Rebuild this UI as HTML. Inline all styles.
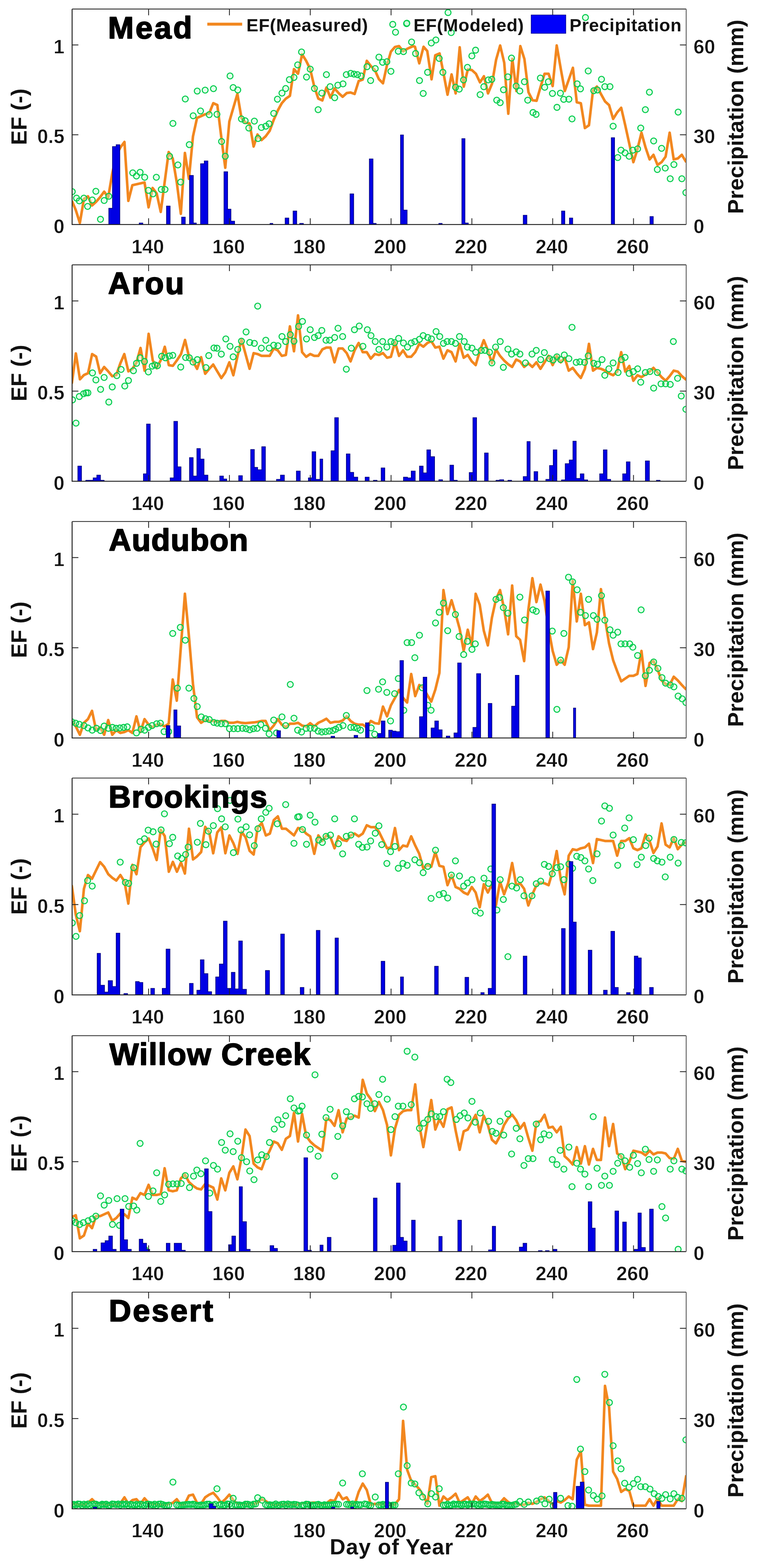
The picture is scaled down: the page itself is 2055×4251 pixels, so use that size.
<!DOCTYPE html>
<html><head><meta charset="utf-8"><title>EF time series</title>
<style>
html,body{margin:0;padding:0;background:#fff;}
svg{display:block;}
text{font-family:'Liberation Sans', Arial, Helvetica, sans-serif;font-weight:bold;fill:#111;}
.t{font-size:53px;stroke:#fff;stroke-width:0.8px;}
.al{font-size:60px;}
.ti{font-size:84px;fill:#000;stroke:#000;stroke-width:2.6px;stroke-linejoin:round;}
.lg{font-size:48.5px;letter-spacing:0.8px;}
.xl{font-size:59px;letter-spacing:1.4px;}
</style></head><body>
<svg width="2055" height="4251" viewBox="0 0 2055 4251">
<rect width="2055" height="4251" fill="#fff"/>
<clipPath id="c0"><rect x="195.5" y="24.5" width="1664.8" height="584.2"/></clipPath>
<g clip-path="url(#c0)">
<path d="M195 544.6 L205.5 569.6 L216.5 604.5 L227.5 539.6 L238.5 532.1 L249.5 557.1 L260.4 547.1 L271.4 534.6 L282.4 519.6 L293.4 534.6 L304.4 469.6 L315.4 419.7 L326.4 399.7 L337.4 384.7 L347.9 544.6 L358.9 502.1 L369.9 499.6 L380.8 497.1 L391.8 494.6 L402.8 562.1 L413.8 509.6 L424.8 524.6 L435.8 574.6 L446.3 494.6 L457.3 412.2 L468.3 429.7 L479.3 494.6 L490.3 579.6 L501.3 414.7 L512.2 484.6 L523.2 369.7 L534.2 319.8 L545.2 314.8 L556.2 309.8 L567.2 307.3 L578.2 279.8 L589.2 284.8 L599.7 369.7 L610.7 454.7 L621.7 329.8 L632.6 292.3 L643.6 254.8 L654.6 319.8 L665.6 332.3 L676.6 334.7 L687.6 397.2 L698.1 364.7 L709.1 379.7 L720.1 369.7 L731.1 354.7 L742.1 324.8 L753 299.8 L764 279.8 L775 267.3 L786 259.8 L797 187.4 L808 199.9 L819 147.4 L830 164.9 L841 187.4 L852 234.8 L863 267.3 L873.9 272.3 L884.9 237.3 L895.9 264.8 L906.9 239.8 L917.9 252.3 L928.9 262.3 L939.9 252.3 L950.4 250.8 L961.4 254.8 L972.4 219.8 L983.4 215.8 L994.4 164.9 L1005.3 178.9 L1016.3 189.9 L1027.3 214.8 L1038.3 225.8 L1049.3 175.9 L1059.8 139.9 L1070.8 127.4 L1081.8 124.9 L1092.8 138.9 L1103.8 132.4 L1120 125 L1125 126.7 L1136.7 171.7 L1148.3 126.7 L1158.3 138.3 L1170 215 L1180 150 L1191.7 145 L1201.7 195 L1213.3 256.7 L1224.3 201.7 L1235.3 253.3 L1246.3 128.3 L1257.3 235 L1268.3 188.3 L1279.3 190 L1290.3 200 L1301.3 223.3 L1312 206.7 L1323 253.3 L1334 226.7 L1345 161.7 L1356 123.3 L1367 170 L1378 308.3 L1389 160 L1400 246.7 L1410.7 125 L1421.7 160 L1432.7 250 L1443.7 271.7 L1454.7 273.3 L1465.7 235 L1476.3 200 L1487.3 200 L1498.3 233.3 L1509.3 123.3 L1520.3 186.7 L1531.3 246.7 L1553.2 183.9 L1563.7 277.3 L1574.7 279.8 L1585.7 347.2 L1596.7 339.7 L1607.7 244.8 L1618.2 234.8 L1629.2 254.8 L1640.2 274.8 L1651.2 284.8 L1662.2 322.3 L1673.2 304.8 L1684.1 292.3 L1695.1 339.7 L1706.1 389.7 L1717.1 439.7 L1728.1 404.7 L1739.1 359.7 L1750.1 399.7 L1761.1 432.2 L1771.6 419.7 L1782.6 447.2 L1793.6 439.7 L1804.5 424.7 L1815.5 359.7 L1826.5 432.2 L1837.5 429.7 L1848.5 419.7 L1860.5 439.7" fill="none" stroke="#f2871f" stroke-width="7" stroke-linejoin="round" stroke-linecap="butt"/>
<path d="M188 519.6a8 8 0 1 0 16 0a8 8 0 1 0 -16 0M199.5 537.1a8 8 0 1 0 16 0a8 8 0 1 0 -16 0M207 544.6a8 8 0 1 0 16 0a8 8 0 1 0 -16 0M219.5 537.1a8 8 0 1 0 16 0a8 8 0 1 0 -16 0M229.5 559.6a8 8 0 1 0 16 0a8 8 0 1 0 -16 0M242 542.1a8 8 0 1 0 16 0a8 8 0 1 0 -16 0M251.9 518.6a8 8 0 1 0 16 0a8 8 0 1 0 -16 0M264.4 594.5a8 8 0 1 0 16 0a8 8 0 1 0 -16 0M274.4 543.6a8 8 0 1 0 16 0a8 8 0 1 0 -16 0M286.9 532.1a8 8 0 1 0 16 0a8 8 0 1 0 -16 0M351.9 468.6a8 8 0 1 0 16 0a8 8 0 1 0 -16 0M361.9 477.1a8 8 0 1 0 16 0a8 8 0 1 0 -16 0M371.8 467.1a8 8 0 1 0 16 0a8 8 0 1 0 -16 0M384.3 480.6a8 8 0 1 0 16 0a8 8 0 1 0 -16 0M394.3 516.1a8 8 0 1 0 16 0a8 8 0 1 0 -16 0M406.8 525.6a8 8 0 1 0 16 0a8 8 0 1 0 -16 0M415.8 480.6a8 8 0 1 0 16 0a8 8 0 1 0 -16 0M429.3 513.6a8 8 0 1 0 16 0a8 8 0 1 0 -16 0M439.3 513.6a8 8 0 1 0 16 0a8 8 0 1 0 -16 0M451.8 423.7a8 8 0 1 0 16 0a8 8 0 1 0 -16 0M460.8 334.7a8 8 0 1 0 16 0a8 8 0 1 0 -16 0M474.3 447.2a8 8 0 1 0 16 0a8 8 0 1 0 -16 0M481.8 493.6a8 8 0 1 0 16 0a8 8 0 1 0 -16 0M494.3 268.3a8 8 0 1 0 16 0a8 8 0 1 0 -16 0M505.2 392.2a8 8 0 1 0 16 0a8 8 0 1 0 -16 0M515.7 313.8a8 8 0 1 0 16 0a8 8 0 1 0 -16 0M526.7 246.8a8 8 0 1 0 16 0a8 8 0 1 0 -16 0M535.7 300.8a8 8 0 1 0 16 0a8 8 0 1 0 -16 0M548.2 244.3a8 8 0 1 0 16 0a8 8 0 1 0 -16 0M559.2 310.8a8 8 0 1 0 16 0a8 8 0 1 0 -16 0M570.7 240.3a8 8 0 1 0 16 0a8 8 0 1 0 -16 0M580.2 309.8a8 8 0 1 0 16 0a8 8 0 1 0 -16 0M592.7 383.7a8 8 0 1 0 16 0a8 8 0 1 0 -16 0M602.7 423.7a8 8 0 1 0 16 0a8 8 0 1 0 -16 0M615.7 205.9a8 8 0 1 0 16 0a8 8 0 1 0 -16 0M624.1 237.3a8 8 0 1 0 16 0a8 8 0 1 0 -16 0M636.6 243.8a8 8 0 1 0 16 0a8 8 0 1 0 -16 0M646.6 322.3a8 8 0 1 0 16 0a8 8 0 1 0 -16 0M656.6 327.3a8 8 0 1 0 16 0a8 8 0 1 0 -16 0M666.6 347.2a8 8 0 1 0 16 0a8 8 0 1 0 -16 0M681.6 328.3a8 8 0 1 0 16 0a8 8 0 1 0 -16 0M691.6 375.7a8 8 0 1 0 16 0a8 8 0 1 0 -16 0M700.6 345.7a8 8 0 1 0 16 0a8 8 0 1 0 -16 0M712.6 342.2a8 8 0 1 0 16 0a8 8 0 1 0 -16 0M721.6 335.7a8 8 0 1 0 16 0a8 8 0 1 0 -16 0M734.1 307.3a8 8 0 1 0 16 0a8 8 0 1 0 -16 0M744.1 268.8a8 8 0 1 0 16 0a8 8 0 1 0 -16 0M756.5 252.3a8 8 0 1 0 16 0a8 8 0 1 0 -16 0M766.5 239.8a8 8 0 1 0 16 0a8 8 0 1 0 -16 0M776.5 215.8a8 8 0 1 0 16 0a8 8 0 1 0 -16 0M789 209.8a8 8 0 1 0 16 0a8 8 0 1 0 -16 0M799 175.9a8 8 0 1 0 16 0a8 8 0 1 0 -16 0M809.5 140.9a8 8 0 1 0 16 0a8 8 0 1 0 -16 0M823 208.8a8 8 0 1 0 16 0a8 8 0 1 0 -16 0M833 187.4a8 8 0 1 0 16 0a8 8 0 1 0 -16 0M844.5 239.8a8 8 0 1 0 16 0a8 8 0 1 0 -16 0M854.5 297.3a8 8 0 1 0 16 0a8 8 0 1 0 -16 0M864.5 252.3a8 8 0 1 0 16 0a8 8 0 1 0 -16 0M876.9 202.4a8 8 0 1 0 16 0a8 8 0 1 0 -16 0M886.9 234.8a8 8 0 1 0 16 0a8 8 0 1 0 -16 0M899.4 264.8a8 8 0 1 0 16 0a8 8 0 1 0 -16 0M907.9 230.8a8 8 0 1 0 16 0a8 8 0 1 0 -16 0M921.9 227.3a8 8 0 1 0 16 0a8 8 0 1 0 -16 0M930.9 202.4a8 8 0 1 0 16 0a8 8 0 1 0 -16 0M942.9 198.9a8 8 0 1 0 16 0a8 8 0 1 0 -16 0M951.9 200.9a8 8 0 1 0 16 0a8 8 0 1 0 -16 0M960.9 202.4a8 8 0 1 0 16 0a8 8 0 1 0 -16 0M970.9 205.9a8 8 0 1 0 16 0a8 8 0 1 0 -16 0M986.9 180.9a8 8 0 1 0 16 0a8 8 0 1 0 -16 0M996.8 218.3a8 8 0 1 0 16 0a8 8 0 1 0 -16 0M1009.3 185.9a8 8 0 1 0 16 0a8 8 0 1 0 -16 0M1019.3 154.9a8 8 0 1 0 16 0a8 8 0 1 0 -16 0M1029.3 168.9a8 8 0 1 0 16 0a8 8 0 1 0 -16 0M1040.8 167.4a8 8 0 1 0 16 0a8 8 0 1 0 -16 0M1051.8 193.4a8 8 0 1 0 16 0a8 8 0 1 0 -16 0M1056.8 66a8 8 0 1 0 16 0a8 8 0 1 0 -16 0M1064.3 87.4a8 8 0 1 0 16 0a8 8 0 1 0 -16 0M1071.8 138.9a8 8 0 1 0 16 0a8 8 0 1 0 -16 0M1085.8 139.9a8 8 0 1 0 16 0a8 8 0 1 0 -16 0M1094.3 64a8 8 0 1 0 16 0a8 8 0 1 0 -16 0M1107.8 113.9a8 8 0 1 0 16 0a8 8 0 1 0 -16 0M1206.7 34a8 8 0 1 0 16 0a8 8 0 1 0 -16 0M1118.7 145a8 8 0 1 0 16 0a8 8 0 1 0 -16 0M1129.3 218.3a8 8 0 1 0 16 0a8 8 0 1 0 -16 0M1139.3 253.3a8 8 0 1 0 16 0a8 8 0 1 0 -16 0M1151.3 196a8 8 0 1 0 16 0a8 8 0 1 0 -16 0M1161.3 116.7a8 8 0 1 0 16 0a8 8 0 1 0 -16 0M1173.7 108.3a8 8 0 1 0 16 0a8 8 0 1 0 -16 0M1182.7 158.3a8 8 0 1 0 16 0a8 8 0 1 0 -16 0M1192.7 196a8 8 0 1 0 16 0a8 8 0 1 0 -16 0M1215.3 88.3a8 8 0 1 0 16 0a8 8 0 1 0 -16 0M1227 236.7a8 8 0 1 0 16 0a8 8 0 1 0 -16 0M1237 241.7a8 8 0 1 0 16 0a8 8 0 1 0 -16 0M1248.7 216.7a8 8 0 1 0 16 0a8 8 0 1 0 -16 0M1259.3 182.7a8 8 0 1 0 16 0a8 8 0 1 0 -16 0M1271.3 151.7a8 8 0 1 0 16 0a8 8 0 1 0 -16 0M1281.3 136a8 8 0 1 0 16 0a8 8 0 1 0 -16 0M1293.7 256.7a8 8 0 1 0 16 0a8 8 0 1 0 -16 0M1303.7 235a8 8 0 1 0 16 0a8 8 0 1 0 -16 0M1316 216.7a8 8 0 1 0 16 0a8 8 0 1 0 -16 0M1325.3 215a8 8 0 1 0 16 0a8 8 0 1 0 -16 0M1338.7 271.7a8 8 0 1 0 16 0a8 8 0 1 0 -16 0M1348 278.3a8 8 0 1 0 16 0a8 8 0 1 0 -16 0M1357 243.3a8 8 0 1 0 16 0a8 8 0 1 0 -16 0M1368.7 208.3a8 8 0 1 0 16 0a8 8 0 1 0 -16 0M1378.7 157.3a8 8 0 1 0 16 0a8 8 0 1 0 -16 0M1391.3 233.3a8 8 0 1 0 16 0a8 8 0 1 0 -16 0M1401.3 246.7a8 8 0 1 0 16 0a8 8 0 1 0 -16 0M1413.7 221.7a8 8 0 1 0 16 0a8 8 0 1 0 -16 0M1422.7 271.7a8 8 0 1 0 16 0a8 8 0 1 0 -16 0M1437 305a8 8 0 1 0 16 0a8 8 0 1 0 -16 0M1445.3 310a8 8 0 1 0 16 0a8 8 0 1 0 -16 0M1457 211.7a8 8 0 1 0 16 0a8 8 0 1 0 -16 0M1468.7 236.7a8 8 0 1 0 16 0a8 8 0 1 0 -16 0M1478.7 221.7a8 8 0 1 0 16 0a8 8 0 1 0 -16 0M1489.7 253.3a8 8 0 1 0 16 0a8 8 0 1 0 -16 0M1502 291a8 8 0 1 0 16 0a8 8 0 1 0 -16 0M1511.3 252.7a8 8 0 1 0 16 0a8 8 0 1 0 -16 0M1520.3 269.3a8 8 0 1 0 16 0a8 8 0 1 0 -16 0M1534.3 268.8a8 8 0 1 0 16 0a8 8 0 1 0 -16 0M1542.8 322.3a8 8 0 1 0 16 0a8 8 0 1 0 -16 0M1556.7 227.3a8 8 0 1 0 16 0a8 8 0 1 0 -16 0M1565.7 240.8a8 8 0 1 0 16 0a8 8 0 1 0 -16 0M1586.7 192.4a8 8 0 1 0 16 0a8 8 0 1 0 -16 0M1601.7 245.8a8 8 0 1 0 16 0a8 8 0 1 0 -16 0M1611.7 243.8a8 8 0 1 0 16 0a8 8 0 1 0 -16 0M1622.7 214.8a8 8 0 1 0 16 0a8 8 0 1 0 -16 0M1631.7 234.8a8 8 0 1 0 16 0a8 8 0 1 0 -16 0M1645.7 234.8a8 8 0 1 0 16 0a8 8 0 1 0 -16 0M1654.2 342.2a8 8 0 1 0 16 0a8 8 0 1 0 -16 0M1666.7 427.2a8 8 0 1 0 16 0a8 8 0 1 0 -16 0M1675.6 407.2a8 8 0 1 0 16 0a8 8 0 1 0 -16 0M1686.6 414.7a8 8 0 1 0 16 0a8 8 0 1 0 -16 0M1697.6 423.7a8 8 0 1 0 16 0a8 8 0 1 0 -16 0M1707.6 407.2a8 8 0 1 0 16 0a8 8 0 1 0 -16 0M1720.6 403.7a8 8 0 1 0 16 0a8 8 0 1 0 -16 0M1729.1 347.2a8 8 0 1 0 16 0a8 8 0 1 0 -16 0M1741.6 297.3a8 8 0 1 0 16 0a8 8 0 1 0 -16 0M1752.6 249.8a8 8 0 1 0 16 0a8 8 0 1 0 -16 0M1764.1 382.2a8 8 0 1 0 16 0a8 8 0 1 0 -16 0M1774.1 459.6a8 8 0 1 0 16 0a8 8 0 1 0 -16 0M1785.6 402.2a8 8 0 1 0 16 0a8 8 0 1 0 -16 0M1795.5 455.7a8 8 0 1 0 16 0a8 8 0 1 0 -16 0M1809 484.6a8 8 0 1 0 16 0a8 8 0 1 0 -16 0M1819 446.2a8 8 0 1 0 16 0a8 8 0 1 0 -16 0M1830.5 303.8a8 8 0 1 0 16 0a8 8 0 1 0 -16 0M1840.5 484.6a8 8 0 1 0 16 0a8 8 0 1 0 -16 0M1851.5 522.1a8 8 0 1 0 16 0a8 8 0 1 0 -16 0M1579.2 47.5a8 8 0 1 0 16 0a8 8 0 1 0 -16 0" fill="#b8ffcc" fill-opacity="0.4" stroke="#00cc4c" stroke-width="2.8"/>
<path d="M294.9 608.7V564.6H304.9V397.2H314.9V392.2H324.9V608.7ZM377.4 608.7V604.5H387.3V608.7ZM451.3 608.7V558.6H461.3V608.7ZM492.3 608.7V588.5H502.3V608.7ZM513.7 608.7V475.6H524.2V604.5H532.2V608.7ZM543.7 608.7V443.7H553.7V436.2H563.7V608.7ZM607.2 608.7V465.6H617.2V567.1H626.2V599.5H636.1V608.7ZM732.1 608.7V605.5H739.6V608.7ZM773 608.7V591H783V608.7ZM794.5 608.7V572.1H804.5V608.7ZM812.5 608.7V605.5H822.5V608.7ZM948.9 608.7V525.6H958.9V608.7ZM1001.3 608.7V430.7H1011.3V605.5H1019.8V608.7ZM1085.8 608.7V365.7H1093.8V569.6H1103.8V608.7ZM1189.7 608.7V605.5H1198.7V608.7ZM1252.1 608.7V375.7H1260.6V604.5H1269.6V608.7ZM1418.5 608.7V583.5H1428.5V608.7ZM1522.3 608.7V572.1H1531.3V608.7ZM1543.8 608.7V591H1552.7V608.7ZM1657.2 608.7V373.2H1666.2V608.7ZM1762.1 608.7V587H1771.1V608.7Z" fill="#0000e4" stroke="#000078" stroke-width="1.6" stroke-linejoin="miter"/>
</g>
<path d="M195.5 24.5V608.7H1860.3" fill="none" stroke="#222" stroke-width="2.6"/>
<path d="M195.5 24.5H1860.3" fill="none" stroke="#333" stroke-width="2.3"/>
<path d="M1860.3 24.5V608.7" fill="none" stroke="#5c5c5c" stroke-width="2.4"/>
<path d="M402.9 608.7v-17M402.9 24.5v17M622 608.7v-17M622 24.5v17M841.1 608.7v-17M841.1 24.5v17M1060.2 608.7v-17M1060.2 24.5v17M1279.3 608.7v-17M1279.3 24.5v17M1498.4 608.7v-17M1498.4 24.5v17M1717.5 608.7v-17M1717.5 24.5v17M195.5 365.3h17M1860.3 365.3h-17M195.5 121.9h17M1860.3 121.9h-17" stroke="#222" stroke-width="2.2" fill="none"/>
<text x="400.6" y="686.5" class="t" text-anchor="middle">140</text>
<text x="619.7" y="686.5" class="t" text-anchor="middle">160</text>
<text x="838.8" y="686.5" class="t" text-anchor="middle">180</text>
<text x="1057.9" y="686.5" class="t" text-anchor="middle">200</text>
<text x="1277" y="686.5" class="t" text-anchor="middle">220</text>
<text x="1496.1" y="686.5" class="t" text-anchor="middle">240</text>
<text x="1715.2" y="686.5" class="t" text-anchor="middle">260</text>
<text x="174.8" y="631.7" class="t" text-anchor="end">0</text>
<text x="174.8" y="388.3" class="t" text-anchor="end">0.5</text>
<text x="174.8" y="144.9" class="t" text-anchor="end">1</text>
<text x="1880" y="631.7" class="t">0</text>
<text x="1880" y="388.3" class="t">30</text>
<text x="1880" y="144.9" class="t">60</text>
<text class="al" transform="translate(71.5 316.6) rotate(-90)" text-anchor="middle">EF (-)</text>
<text class="al" transform="translate(2015 316.6) rotate(-90)" text-anchor="middle">Precipitation (mm)</text>
<text class="ti" x="292.7" y="103.7" textLength="228.1" lengthAdjust="spacing">Mead</text>
<clipPath id="c1"><rect x="195.5" y="718.0" width="1664.8" height="586.8"/></clipPath>
<g clip-path="url(#c1)">
<path d="M194.7 1040 L205.7 958.3 L216.7 1028.3 L227.7 1016.7 L238.7 1011.7 L249.7 960 L260.7 966.7 L271.3 1011.7 L282.3 995 L293.3 1006.7 L304.3 1020 L315.3 1016.7 L326.3 985 L337 960 L348 1006.7 L359 1000 L370 983.3 L381 943.3 L392 1005 L403 905 L414 976.7 L424.7 998.3 L435.7 976.7 L446.7 940 L457.7 990 L468.7 991.7 L479.7 976.7 L490.7 960 L501.7 921.7 L512.3 966.7 L523.3 980 L534.3 1000 L545.3 968.3 L556.3 1013.3 L567.3 1000 L578 988.3 L589 1006.7 L600 1025 L610.7 1009.8 L621.7 982.3 L632.6 1017.3 L643.6 967.3 L654.6 919.8 L665.6 959.8 L676.6 999.8 L687.6 957.3 L698.1 959.8 L709.1 964.8 L720.1 964.8 L731.1 964.8 L742.1 944.8 L753 949.8 L764 964.8 L775 962.3 L786 884.9 L797 952.3 L808 854.9 L819 954.8 L830 967.3 L841 959.8 L852 964.8 L863 964.8 L873.9 947.3 L884.9 942.3 L895.9 942.3 L906.9 982.3 L917.9 944.8 L928.9 944.8 L939.9 957.3 L950.4 979.8 L961.4 949.8 L972.4 929.8 L983.4 954.8 L994.4 954.8 L1005.3 972.3 L1016.3 959.8 L1027.3 962.3 L1038.3 957.3 L1049.3 969.8 L1059.8 967.3 L1070.8 927.3 L1081.8 964.8 L1092.8 949.8 L1103.8 967.3 L1114.8 967.3 L1125.7 954.8 L1136.7 932.3 L1147.7 939.8 L1158.7 929.8 L1169.2 924.8 L1180.2 942.3 L1191.2 939.8 L1202.2 972.3 L1213.2 949.8 L1224.2 954.8 L1235.2 979.8 L1246.2 932.3 L1257.1 969.8 L1268.1 962.3 L1279.1 979.8 L1289.6 989.8 L1300.6 952.3 L1311.6 922.3 L1322.6 949.8 L1333.6 984.8 L1344.6 947.3 L1355.6 964.8 L1366.6 977.3 L1377.5 987.3 L1388.5 994.8 L1399.5 974.8 L1410 979.8 L1421 994.8 L1432.3 984.8 L1443.3 994.8 L1454.3 982.3 L1465.3 999.8 L1476.3 982.3 L1487.3 964.8 L1498.3 989.8 L1509.3 964.8 L1520.3 982.3 L1530.8 969.8 L1541.8 1004.8 L1552.7 997.3 L1563.7 1012.3 L1574.7 1024.7 L1585.7 999.8 L1596.7 932.3 L1607.7 1004.8 L1618.2 997.3 L1629.2 999.8 L1640.2 1004.8 L1651.2 1012.3 L1662.2 1017.3 L1673.2 1007.3 L1684.1 954.8 L1695.1 1007.3 L1706.1 992.3 L1717.1 1032.2 L1728.1 1017.3 L1739.1 1022.3 L1750.1 1014.8 L1761.1 1007.3 L1771.6 997.3 L1782.6 1009.8 L1793.6 1022.3 L1804.5 1032.2 L1815.5 1019.8 L1826.5 1004.8 L1837.5 1007.3 L1848.5 1019.8 L1860.5 1029.7" fill="none" stroke="#f2871f" stroke-width="7" stroke-linejoin="round" stroke-linecap="butt"/>
<path d="M188.7 1084a8 8 0 1 0 16 0a8 8 0 1 0 -16 0M207 1075a8 8 0 1 0 16 0a8 8 0 1 0 -16 0M218.7 1067.3a8 8 0 1 0 16 0a8 8 0 1 0 -16 0M225.3 1065a8 8 0 1 0 16 0a8 8 0 1 0 -16 0M230.3 1065a8 8 0 1 0 16 0a8 8 0 1 0 -16 0M242.7 1011a8 8 0 1 0 16 0a8 8 0 1 0 -16 0M252 1030a8 8 0 1 0 16 0a8 8 0 1 0 -16 0M264.7 1055.7a8 8 0 1 0 16 0a8 8 0 1 0 -16 0M274.3 1023.3a8 8 0 1 0 16 0a8 8 0 1 0 -16 0M287 1090a8 8 0 1 0 16 0a8 8 0 1 0 -16 0M296.3 1049a8 8 0 1 0 16 0a8 8 0 1 0 -16 0M308.7 1018.3a8 8 0 1 0 16 0a8 8 0 1 0 -16 0M320.3 1001.7a8 8 0 1 0 16 0a8 8 0 1 0 -16 0M330.3 1046.7a8 8 0 1 0 16 0a8 8 0 1 0 -16 0M340.3 1031.7a8 8 0 1 0 16 0a8 8 0 1 0 -16 0M353.7 1005a8 8 0 1 0 16 0a8 8 0 1 0 -16 0M362 985a8 8 0 1 0 16 0a8 8 0 1 0 -16 0M372 970a8 8 0 1 0 16 0a8 8 0 1 0 -16 0M383.7 980a8 8 0 1 0 16 0a8 8 0 1 0 -16 0M394.3 1008.3a8 8 0 1 0 16 0a8 8 0 1 0 -16 0M404.7 992.7a8 8 0 1 0 16 0a8 8 0 1 0 -16 0M412 989.3a8 8 0 1 0 16 0a8 8 0 1 0 -16 0M418.7 991.7a8 8 0 1 0 16 0a8 8 0 1 0 -16 0M430.3 966a8 8 0 1 0 16 0a8 8 0 1 0 -16 0M440.3 970a8 8 0 1 0 16 0a8 8 0 1 0 -16 0M451.3 965a8 8 0 1 0 16 0a8 8 0 1 0 -16 0M460.3 963.3a8 8 0 1 0 16 0a8 8 0 1 0 -16 0M482 995a8 8 0 1 0 16 0a8 8 0 1 0 -16 0M495.3 969.3a8 8 0 1 0 16 0a8 8 0 1 0 -16 0M505.3 970a8 8 0 1 0 16 0a8 8 0 1 0 -16 0M515.3 981.7a8 8 0 1 0 16 0a8 8 0 1 0 -16 0M527 975a8 8 0 1 0 16 0a8 8 0 1 0 -16 0M550.3 996.7a8 8 0 1 0 16 0a8 8 0 1 0 -16 0M558 964a8 8 0 1 0 16 0a8 8 0 1 0 -16 0M572 943.3a8 8 0 1 0 16 0a8 8 0 1 0 -16 0M580.3 944a8 8 0 1 0 16 0a8 8 0 1 0 -16 0M592 960a8 8 0 1 0 16 0a8 8 0 1 0 -16 0M198 1147.2a8 8 0 1 0 16 0a8 8 0 1 0 -16 0M604.2 918.8a8 8 0 1 0 16 0a8 8 0 1 0 -16 0M615.7 938.8a8 8 0 1 0 16 0a8 8 0 1 0 -16 0M624.1 967.3a8 8 0 1 0 16 0a8 8 0 1 0 -16 0M636.6 947.3a8 8 0 1 0 16 0a8 8 0 1 0 -16 0M646.6 924.8a8 8 0 1 0 16 0a8 8 0 1 0 -16 0M659.1 899.8a8 8 0 1 0 16 0a8 8 0 1 0 -16 0M669.1 928.3a8 8 0 1 0 16 0a8 8 0 1 0 -16 0M681.6 930.8a8 8 0 1 0 16 0a8 8 0 1 0 -16 0M690.6 829.9a8 8 0 1 0 16 0a8 8 0 1 0 -16 0M700.6 943.8a8 8 0 1 0 16 0a8 8 0 1 0 -16 0M712.6 922.3a8 8 0 1 0 16 0a8 8 0 1 0 -16 0M721.6 943.8a8 8 0 1 0 16 0a8 8 0 1 0 -16 0M734.1 935.8a8 8 0 1 0 16 0a8 8 0 1 0 -16 0M745.5 937.3a8 8 0 1 0 16 0a8 8 0 1 0 -16 0M756.5 912.3a8 8 0 1 0 16 0a8 8 0 1 0 -16 0M766.5 925.8a8 8 0 1 0 16 0a8 8 0 1 0 -16 0M779 907.3a8 8 0 1 0 16 0a8 8 0 1 0 -16 0M789 924.8a8 8 0 1 0 16 0a8 8 0 1 0 -16 0M801.5 884.9a8 8 0 1 0 16 0a8 8 0 1 0 -16 0M812 871.4a8 8 0 1 0 16 0a8 8 0 1 0 -16 0M823 918.8a8 8 0 1 0 16 0a8 8 0 1 0 -16 0M833 893.9a8 8 0 1 0 16 0a8 8 0 1 0 -16 0M844.5 914.8a8 8 0 1 0 16 0a8 8 0 1 0 -16 0M854.5 909.8a8 8 0 1 0 16 0a8 8 0 1 0 -16 0M864.5 895.9a8 8 0 1 0 16 0a8 8 0 1 0 -16 0M875.9 922.3a8 8 0 1 0 16 0a8 8 0 1 0 -16 0M885.9 922.3a8 8 0 1 0 16 0a8 8 0 1 0 -16 0M899.4 914.8a8 8 0 1 0 16 0a8 8 0 1 0 -16 0M908.4 889.9a8 8 0 1 0 16 0a8 8 0 1 0 -16 0M920.9 912.3a8 8 0 1 0 16 0a8 8 0 1 0 -16 0M930.9 1000.8a8 8 0 1 0 16 0a8 8 0 1 0 -16 0M944.4 943.8a8 8 0 1 0 16 0a8 8 0 1 0 -16 0M952.9 893.9a8 8 0 1 0 16 0a8 8 0 1 0 -16 0M965.9 883.9a8 8 0 1 0 16 0a8 8 0 1 0 -16 0M975.9 938.8a8 8 0 1 0 16 0a8 8 0 1 0 -16 0M987.9 893.9a8 8 0 1 0 16 0a8 8 0 1 0 -16 0M997.8 909.8a8 8 0 1 0 16 0a8 8 0 1 0 -16 0M1009.3 925.8a8 8 0 1 0 16 0a8 8 0 1 0 -16 0M1019.3 947.3a8 8 0 1 0 16 0a8 8 0 1 0 -16 0M1029.3 925.8a8 8 0 1 0 16 0a8 8 0 1 0 -16 0M1040.8 940.8a8 8 0 1 0 16 0a8 8 0 1 0 -16 0M1051.8 925.8a8 8 0 1 0 16 0a8 8 0 1 0 -16 0M1061.8 928.8a8 8 0 1 0 16 0a8 8 0 1 0 -16 0M1072.8 917.3a8 8 0 1 0 16 0a8 8 0 1 0 -16 0M1085.8 929.8a8 8 0 1 0 16 0a8 8 0 1 0 -16 0M1096.8 940.8a8 8 0 1 0 16 0a8 8 0 1 0 -16 0M1106.8 929.8a8 8 0 1 0 16 0a8 8 0 1 0 -16 0M1116.7 925.8a8 8 0 1 0 16 0a8 8 0 1 0 -16 0M1129.2 919.8a8 8 0 1 0 16 0a8 8 0 1 0 -16 0M1139.2 909.8a8 8 0 1 0 16 0a8 8 0 1 0 -16 0M1151.7 914.8a8 8 0 1 0 16 0a8 8 0 1 0 -16 0M1161.7 918.8a8 8 0 1 0 16 0a8 8 0 1 0 -16 0M1174.2 898.8a8 8 0 1 0 16 0a8 8 0 1 0 -16 0M1184.2 912.3a8 8 0 1 0 16 0a8 8 0 1 0 -16 0M1194.2 930.8a8 8 0 1 0 16 0a8 8 0 1 0 -16 0M1204.2 925.8a8 8 0 1 0 16 0a8 8 0 1 0 -16 0M1215.7 925.8a8 8 0 1 0 16 0a8 8 0 1 0 -16 0M1226.7 930.8a8 8 0 1 0 16 0a8 8 0 1 0 -16 0M1237.7 912.3a8 8 0 1 0 16 0a8 8 0 1 0 -16 0M1250.6 925.8a8 8 0 1 0 16 0a8 8 0 1 0 -16 0M1259.1 940.8a8 8 0 1 0 16 0a8 8 0 1 0 -16 0M1271.6 943.8a8 8 0 1 0 16 0a8 8 0 1 0 -16 0M1281.6 954.8a8 8 0 1 0 16 0a8 8 0 1 0 -16 0M1296.6 949.8a8 8 0 1 0 16 0a8 8 0 1 0 -16 0M1306.6 949.8a8 8 0 1 0 16 0a8 8 0 1 0 -16 0M1319.1 954.8a8 8 0 1 0 16 0a8 8 0 1 0 -16 0M1325.6 983.8a8 8 0 1 0 16 0a8 8 0 1 0 -16 0M1335.6 940.8a8 8 0 1 0 16 0a8 8 0 1 0 -16 0M1348.1 925.8a8 8 0 1 0 16 0a8 8 0 1 0 -16 0M1356.6 995.8a8 8 0 1 0 16 0a8 8 0 1 0 -16 0M1369 946.3a8 8 0 1 0 16 0a8 8 0 1 0 -16 0M1379 959.8a8 8 0 1 0 16 0a8 8 0 1 0 -16 0M1391.5 953.8a8 8 0 1 0 16 0a8 8 0 1 0 -16 0M1401.5 959.8a8 8 0 1 0 16 0a8 8 0 1 0 -16 0M1416.5 983.8a8 8 0 1 0 16 0a8 8 0 1 0 -16 0M1434.3 959.8a8 8 0 1 0 16 0a8 8 0 1 0 -16 0M1445.8 949.8a8 8 0 1 0 16 0a8 8 0 1 0 -16 0M1457.8 974.8a8 8 0 1 0 16 0a8 8 0 1 0 -16 0M1467.8 955.8a8 8 0 1 0 16 0a8 8 0 1 0 -16 0M1481.8 972.3a8 8 0 1 0 16 0a8 8 0 1 0 -16 0M1491.8 975.8a8 8 0 1 0 16 0a8 8 0 1 0 -16 0M1501.8 967.3a8 8 0 1 0 16 0a8 8 0 1 0 -16 0M1511.8 974.8a8 8 0 1 0 16 0a8 8 0 1 0 -16 0M1521.8 962.3a8 8 0 1 0 16 0a8 8 0 1 0 -16 0M1534.3 972.3a8 8 0 1 0 16 0a8 8 0 1 0 -16 0M1542.8 887.4a8 8 0 1 0 16 0a8 8 0 1 0 -16 0M1554.2 982.3a8 8 0 1 0 16 0a8 8 0 1 0 -16 0M1564.2 980.8a8 8 0 1 0 16 0a8 8 0 1 0 -16 0M1576.7 982.3a8 8 0 1 0 16 0a8 8 0 1 0 -16 0M1586.7 964.8a8 8 0 1 0 16 0a8 8 0 1 0 -16 0M1601.7 984.8a8 8 0 1 0 16 0a8 8 0 1 0 -16 0M1611.7 987.3a8 8 0 1 0 16 0a8 8 0 1 0 -16 0M1624.2 974.8a8 8 0 1 0 16 0a8 8 0 1 0 -16 0M1631.7 1017.3a8 8 0 1 0 16 0a8 8 0 1 0 -16 0M1642.7 999.8a8 8 0 1 0 16 0a8 8 0 1 0 -16 0M1654.2 983.8a8 8 0 1 0 16 0a8 8 0 1 0 -16 0M1667.7 1009.8a8 8 0 1 0 16 0a8 8 0 1 0 -16 0M1676.6 974.8a8 8 0 1 0 16 0a8 8 0 1 0 -16 0M1686.6 968.8a8 8 0 1 0 16 0a8 8 0 1 0 -16 0M1697.6 1012.3a8 8 0 1 0 16 0a8 8 0 1 0 -16 0M1709.1 1007.3a8 8 0 1 0 16 0a8 8 0 1 0 -16 0M1720.6 999.8a8 8 0 1 0 16 0a8 8 0 1 0 -16 0M1729.1 1036.2a8 8 0 1 0 16 0a8 8 0 1 0 -16 0M1741.6 1009.8a8 8 0 1 0 16 0a8 8 0 1 0 -16 0M1754.1 1007.3a8 8 0 1 0 16 0a8 8 0 1 0 -16 0M1764.1 1052.2a8 8 0 1 0 16 0a8 8 0 1 0 -16 0M1774.1 1009.8a8 8 0 1 0 16 0a8 8 0 1 0 -16 0M1784.1 1040.7a8 8 0 1 0 16 0a8 8 0 1 0 -16 0M1796.5 1040.7a8 8 0 1 0 16 0a8 8 0 1 0 -16 0M1809 1042.2a8 8 0 1 0 16 0a8 8 0 1 0 -16 0M1817.5 925.8a8 8 0 1 0 16 0a8 8 0 1 0 -16 0M1829 1025.7a8 8 0 1 0 16 0a8 8 0 1 0 -16 0M1839 1073.7a8 8 0 1 0 16 0a8 8 0 1 0 -16 0M1851.5 1109.7a8 8 0 1 0 16 0a8 8 0 1 0 -16 0" fill="#b8ffcc" fill-opacity="0.4" stroke="#00cc4c" stroke-width="2.8"/>
<path d="M211 1304.8V1263.6H221V1304.8ZM232.5 1304.8V1302H252.5V1295.5H262.4V1288H272.4V1302H282.4V1304.8ZM388.8 1304.8V1284.5H397.3V1149.6H407.3V1304.8ZM461.3 1304.8V1295.5H471.3V1142.2H481.3V1265.6H490.8V1304.8ZM513.7 1304.8V1240.6H523.7V1290.5H533.7V1216.1H543.2V1244.6H553.2V1288H563.7V1304.8ZM595.7 1304.8V1290.5H605.7V1298.5H614.7V1304.8ZM647.1 1304.8V1289.5H657.1V1304.8ZM679.6 1304.8V1218.6H689.6V1267.1H698.6V1273.5H709.6V1211.1H719.6V1304.8ZM749.6 1304.8V1299.5H760.3V1288H771V1304.8ZM803.5 1304.8V1277H811V1277H814V1304.8ZM836 1304.8V1295.5H846V1224.6H856V1299.5H867.5V1244.6H874.9V1304.8ZM897.4 1304.8V1222.1H907.4V1132.2H917.4V1304.8ZM938.9 1304.8V1230.6H948.9V1280.5H958.9V1293.5H969.9V1304.8ZM989.9 1304.8V1293.5H1000.8V1304.8ZM1012.3 1304.8V1302H1022.3V1304.8ZM1033.3 1304.8V1268.6H1043.3V1304.8ZM1093.8 1304.8V1293.5H1104.8V1295.5H1114.8V1277H1125.7V1304.8ZM1137.2 1304.8V1263.6H1147.2V1282H1157.2V1219.6H1167.2V1238.1H1178.2V1304.8ZM1189.7 1304.8V1300.5H1199.7V1304.8ZM1219.7 1304.8V1261.1H1229.7V1302H1239.7V1304.8ZM1272.1 1304.8V1281H1282.1V1132.2H1292.1V1304.8ZM1313.6 1304.8V1228.1H1323.6V1304.8ZM1344.6 1304.8V1302H1354.6V1300.5H1365.6V1304.8ZM1377 1304.8V1302H1387V1304.8ZM1418.5 1304.8V1292H1428.7V1197.1H1437.3V1304.8ZM1447.8 1304.8V1278.5H1457.8V1304.8ZM1479.8 1304.8V1299.5H1489.8V1262.1H1499.8V1219.6H1509.8V1304.8ZM1522.3 1304.8V1301H1532.3V1257.1H1543.3V1247.1H1553.2V1196.1H1562.2V1297H1573.2V1284.5H1583.2V1301H1593.2V1304.8ZM1625.7 1304.8V1284.5H1635.7V1219.6H1645.7V1299.5H1655.7V1304.8ZM1688.1 1304.8V1284.5H1698.1V1252.1H1708.1V1304.8ZM1749.6 1304.8V1249.6H1760.6V1304.8ZM1779.6 1304.8V1302H1789.6V1304.8Z" fill="#0000e4" stroke="#000078" stroke-width="1.6" stroke-linejoin="miter"/>
</g>
<path d="M195.5 718.0V1304.8H1860.3" fill="none" stroke="#222" stroke-width="2.6"/>
<path d="M195.5 718.0H1860.3" fill="none" stroke="#333" stroke-width="2.3"/>
<path d="M1860.3 718.0V1304.8" fill="none" stroke="#5c5c5c" stroke-width="2.4"/>
<path d="M402.9 1304.8v-17M402.9 718v17M622 1304.8v-17M622 718v17M841.1 1304.8v-17M841.1 718v17M1060.2 1304.8v-17M1060.2 718v17M1279.3 1304.8v-17M1279.3 718v17M1498.4 1304.8v-17M1498.4 718v17M1717.5 1304.8v-17M1717.5 718v17M195.5 1060.3h17M1860.3 1060.3h-17M195.5 815.8h17M1860.3 815.8h-17" stroke="#222" stroke-width="2.2" fill="none"/>
<text x="400.6" y="1382.6" class="t" text-anchor="middle">140</text>
<text x="619.7" y="1382.6" class="t" text-anchor="middle">160</text>
<text x="838.8" y="1382.6" class="t" text-anchor="middle">180</text>
<text x="1057.9" y="1382.6" class="t" text-anchor="middle">200</text>
<text x="1277" y="1382.6" class="t" text-anchor="middle">220</text>
<text x="1496.1" y="1382.6" class="t" text-anchor="middle">240</text>
<text x="1715.2" y="1382.6" class="t" text-anchor="middle">260</text>
<text x="174.8" y="1327.8" class="t" text-anchor="end">0</text>
<text x="174.8" y="1083.3" class="t" text-anchor="end">0.5</text>
<text x="174.8" y="838.8" class="t" text-anchor="end">1</text>
<text x="1880" y="1327.8" class="t">0</text>
<text x="1880" y="1083.3" class="t">30</text>
<text x="1880" y="838.8" class="t">60</text>
<text class="al" transform="translate(71.5 1011.4) rotate(-90)" text-anchor="middle">EF (-)</text>
<text class="al" transform="translate(2015 1011.4) rotate(-90)" text-anchor="middle">Precipitation (mm)</text>
<text class="ti" x="293.0" y="797.2" textLength="206.0" lengthAdjust="spacing">Arou</text>
<clipPath id="c2"><rect x="195.5" y="1413.9" width="1664.8" height="586.8"/></clipPath>
<g clip-path="url(#c2)">
<path d="M194.5 1954.6 L205.5 1969.5 L216.5 1992 L227.5 1959.6 L238.5 1949.6 L249.5 1927.1 L260.4 1979.5 L271.4 1972 L282.4 1992 L293.4 1952.1 L304.4 1992 L315.4 1979.5 L326.4 1987 L337.4 1984.5 L347.9 1979.5 L358.9 1987 L369.9 1942.1 L380.8 1984.5 L391.8 1949.6 L402.8 1964.6 L413.8 1972 L424.8 1964.6 L435.8 1963.6 L446.3 1969.5 L457.3 1962.1 L468.3 1842.2 L479.3 1899.6 L490.3 1754.7 L501.3 1609.8 L512.2 1724.7 L523.2 1854.6 L534.2 1944.6 L545.2 1959.6 L556.2 1952.1 L567.2 1954.6 L578.2 1954.6 L589.2 1957.1 L599.7 1954.6 L610.7 1954.6 L621.7 1959.6 L632.6 1959.6 L643.6 1957.1 L654.6 1959.6 L665.6 1960.6 L676.6 1959.6 L687.6 1958.6 L698.1 1957.1 L709.1 1954.6 L720.1 1954.6 L731.1 1979.5 L742.1 1967.1 L753 1949.6 L764 1964.6 L775 1972 L786 1962.1 L797 1962.1 L808 1959.6 L819 1967.1 L830 1969.5 L841 1960.6 L852 1969.5 L863 1959.6 L873.9 1954.6 L884.9 1948.6 L895.9 1959.6 L906.9 1957.1 L917.9 1957.1 L928.9 1953.6 L939.9 1942.1 L950.4 1954.6 L961.4 1962.1 L972.4 1964.6 L983.4 1964.6 L994.4 1972 L1005.3 1954.6 L1016.3 1960.6 L1027.3 1962.1 L1038.3 1915.6 L1049.3 1942.1 L1059.8 1912.1 L1070.8 1892.1 L1081.8 1870.6 L1092.8 1892.1 L1103.8 1904.6 L1114.8 1827.2 L1125.7 1887.1 L1136.7 1857.1 L1147.7 1864.6 L1158.7 1884.6 L1169.2 1902.1 L1180.2 1869.6 L1191.2 1824.7 L1202.2 1599.8 L1213.2 1664.8 L1224.2 1627.3 L1235.2 1664.8 L1246.2 1704.8 L1257.1 1764.7 L1268.1 1707.3 L1279.1 1749.7 L1289.6 1609.8 L1300.6 1639.8 L1311.6 1709.8 L1322.6 1749.7 L1333.6 1674.8 L1344.6 1624.8 L1355.6 1599.8 L1366.6 1649.8 L1377.5 1719.7 L1388.5 1587.4 L1399.5 1724.7 L1410 1734.7 L1421 1792.2 L1432.3 1654.8 L1443.3 1567.4 L1454.3 1632.3 L1465.3 1584.9 L1476.3 1629.8 L1487.3 1704.8 L1498.3 1764.7 L1509.3 1802.2 L1520.3 1789.7 L1530.8 1802.2 L1541.8 1754.7 L1552.7 1574.9 L1563.7 1684.8 L1574.7 1609.8 L1585.7 1694.8 L1596.7 1687.3 L1607.7 1759.7 L1618.2 1714.8 L1629.2 1597.3 L1640.2 1677.3 L1651.2 1744.7 L1662.2 1789.7 L1673.2 1819.7 L1684.1 1847.1 L1695.1 1839.7 L1706.1 1832.2 L1717.1 1832.2 L1728.1 1827.2 L1739.1 1764.7 L1750.1 1859.6 L1761.1 1797.2 L1771.6 1792.2 L1782.6 1814.7 L1793.6 1844.6 L1804.5 1854.6 L1815.5 1857.1 L1826.5 1834.7 L1837.5 1844.6 L1848.5 1857.1 L1860.5 1869.6" fill="none" stroke="#f2871f" stroke-width="7" stroke-linejoin="round" stroke-linecap="butt"/>
<path d="M187 1957.1a8 8 0 1 0 16 0a8 8 0 1 0 -16 0M197 1960.6a8 8 0 1 0 16 0a8 8 0 1 0 -16 0M207 1963.6a8 8 0 1 0 16 0a8 8 0 1 0 -16 0M219.5 1967.1a8 8 0 1 0 16 0a8 8 0 1 0 -16 0M230.5 1973.5a8 8 0 1 0 16 0a8 8 0 1 0 -16 0M242 1979.5a8 8 0 1 0 16 0a8 8 0 1 0 -16 0M253.4 1974.5a8 8 0 1 0 16 0a8 8 0 1 0 -16 0M264.4 1980.5a8 8 0 1 0 16 0a8 8 0 1 0 -16 0M274.4 1968.5a8 8 0 1 0 16 0a8 8 0 1 0 -16 0M285.9 1974.5a8 8 0 1 0 16 0a8 8 0 1 0 -16 0M296.9 1972a8 8 0 1 0 16 0a8 8 0 1 0 -16 0M306.9 1974.5a8 8 0 1 0 16 0a8 8 0 1 0 -16 0M316.9 1973.5a8 8 0 1 0 16 0a8 8 0 1 0 -16 0M326.9 1972a8 8 0 1 0 16 0a8 8 0 1 0 -16 0M336.9 1970.5a8 8 0 1 0 16 0a8 8 0 1 0 -16 0M361.9 1987a8 8 0 1 0 16 0a8 8 0 1 0 -16 0M374.3 1977a8 8 0 1 0 16 0a8 8 0 1 0 -16 0M384.3 1979.5a8 8 0 1 0 16 0a8 8 0 1 0 -16 0M394.3 1972a8 8 0 1 0 16 0a8 8 0 1 0 -16 0M404.3 1967.1a8 8 0 1 0 16 0a8 8 0 1 0 -16 0M416.8 1962.1a8 8 0 1 0 16 0a8 8 0 1 0 -16 0M426.8 1960.6a8 8 0 1 0 16 0a8 8 0 1 0 -16 0M436.8 1983.5a8 8 0 1 0 16 0a8 8 0 1 0 -16 0M449.3 1983.5a8 8 0 1 0 16 0a8 8 0 1 0 -16 0M460.3 1717.3a8 8 0 1 0 16 0a8 8 0 1 0 -16 0M472.8 1865.6a8 8 0 1 0 16 0a8 8 0 1 0 -16 0M480.8 1700.8a8 8 0 1 0 16 0a8 8 0 1 0 -16 0M494.3 1735.7a8 8 0 1 0 16 0a8 8 0 1 0 -16 0M504.2 1865.6a8 8 0 1 0 16 0a8 8 0 1 0 -16 0M517.7 1893.6a8 8 0 1 0 16 0a8 8 0 1 0 -16 0M526.7 1915.6a8 8 0 1 0 16 0a8 8 0 1 0 -16 0M537.7 1943.6a8 8 0 1 0 16 0a8 8 0 1 0 -16 0M549.2 1948.6a8 8 0 1 0 16 0a8 8 0 1 0 -16 0M559.2 1950.6a8 8 0 1 0 16 0a8 8 0 1 0 -16 0M571.7 1958.6a8 8 0 1 0 16 0a8 8 0 1 0 -16 0M580.7 1960.6a8 8 0 1 0 16 0a8 8 0 1 0 -16 0M591.7 1962.1a8 8 0 1 0 16 0a8 8 0 1 0 -16 0M602.7 1962.1a8 8 0 1 0 16 0a8 8 0 1 0 -16 0M614.2 1975.5a8 8 0 1 0 16 0a8 8 0 1 0 -16 0M625.6 1975.5a8 8 0 1 0 16 0a8 8 0 1 0 -16 0M636.6 1975.5a8 8 0 1 0 16 0a8 8 0 1 0 -16 0M649.1 1974.5a8 8 0 1 0 16 0a8 8 0 1 0 -16 0M659.1 1975.5a8 8 0 1 0 16 0a8 8 0 1 0 -16 0M669.1 1978.5a8 8 0 1 0 16 0a8 8 0 1 0 -16 0M679.1 1975.5a8 8 0 1 0 16 0a8 8 0 1 0 -16 0M689.1 1974.5a8 8 0 1 0 16 0a8 8 0 1 0 -16 0M699.1 1964.6a8 8 0 1 0 16 0a8 8 0 1 0 -16 0M711.6 1974.5a8 8 0 1 0 16 0a8 8 0 1 0 -16 0M721.6 1989.5a8 8 0 1 0 16 0a8 8 0 1 0 -16 0M734.1 1952.1a8 8 0 1 0 16 0a8 8 0 1 0 -16 0M741.6 1987a8 8 0 1 0 16 0a8 8 0 1 0 -16 0M756.5 1943.6a8 8 0 1 0 16 0a8 8 0 1 0 -16 0M766.5 1967.1a8 8 0 1 0 16 0a8 8 0 1 0 -16 0M779 1855.6a8 8 0 1 0 16 0a8 8 0 1 0 -16 0M789 1947.1a8 8 0 1 0 16 0a8 8 0 1 0 -16 0M799 1979.5a8 8 0 1 0 16 0a8 8 0 1 0 -16 0M809.5 1984.5a8 8 0 1 0 16 0a8 8 0 1 0 -16 0M822 1974.5a8 8 0 1 0 16 0a8 8 0 1 0 -16 0M833 1974.5a8 8 0 1 0 16 0a8 8 0 1 0 -16 0M844.5 1974.5a8 8 0 1 0 16 0a8 8 0 1 0 -16 0M854.5 1982a8 8 0 1 0 16 0a8 8 0 1 0 -16 0M864.5 1984.5a8 8 0 1 0 16 0a8 8 0 1 0 -16 0M874.4 1983.5a8 8 0 1 0 16 0a8 8 0 1 0 -16 0M884.4 1982a8 8 0 1 0 16 0a8 8 0 1 0 -16 0M894.4 1980.5a8 8 0 1 0 16 0a8 8 0 1 0 -16 0M901.9 1977a8 8 0 1 0 16 0a8 8 0 1 0 -16 0M910.9 1972a8 8 0 1 0 16 0a8 8 0 1 0 -16 0M921.9 1967.1a8 8 0 1 0 16 0a8 8 0 1 0 -16 0M930.9 1939.6a8 8 0 1 0 16 0a8 8 0 1 0 -16 0M942.9 1972a8 8 0 1 0 16 0a8 8 0 1 0 -16 0M951.9 1972a8 8 0 1 0 16 0a8 8 0 1 0 -16 0M960.9 1974.5a8 8 0 1 0 16 0a8 8 0 1 0 -16 0M969.4 1979.5a8 8 0 1 0 16 0a8 8 0 1 0 -16 0M986.9 1872.1a8 8 0 1 0 16 0a8 8 0 1 0 -16 0M998.3 1973.5a8 8 0 1 0 16 0a8 8 0 1 0 -16 0M1007.8 1990.5a8 8 0 1 0 16 0a8 8 0 1 0 -16 0M1018.3 1868.6a8 8 0 1 0 16 0a8 8 0 1 0 -16 0M1029.3 1848.6a8 8 0 1 0 16 0a8 8 0 1 0 -16 0M1040.8 1877.1a8 8 0 1 0 16 0a8 8 0 1 0 -16 0M1050.8 1954.6a8 8 0 1 0 16 0a8 8 0 1 0 -16 0M1061.8 1880.6a8 8 0 1 0 16 0a8 8 0 1 0 -16 0M1071.8 1839.7a8 8 0 1 0 16 0a8 8 0 1 0 -16 0M1086.8 1925.6a8 8 0 1 0 16 0a8 8 0 1 0 -16 0M1095.8 1742.2a8 8 0 1 0 16 0a8 8 0 1 0 -16 0M1107.8 1742.2a8 8 0 1 0 16 0a8 8 0 1 0 -16 0M1116.7 1783.2a8 8 0 1 0 16 0a8 8 0 1 0 -16 0M1129.2 1722.2a8 8 0 1 0 16 0a8 8 0 1 0 -16 0M1136.7 1864.6a8 8 0 1 0 16 0a8 8 0 1 0 -16 0M1151.7 1912.1a8 8 0 1 0 16 0a8 8 0 1 0 -16 0M1160.7 1925.6a8 8 0 1 0 16 0a8 8 0 1 0 -16 0M1172.7 1688.8a8 8 0 1 0 16 0a8 8 0 1 0 -16 0M1182.7 1659.8a8 8 0 1 0 16 0a8 8 0 1 0 -16 0M1194.2 1634.8a8 8 0 1 0 16 0a8 8 0 1 0 -16 0M1205.7 1709.8a8 8 0 1 0 16 0a8 8 0 1 0 -16 0M1226.7 1665.8a8 8 0 1 0 16 0a8 8 0 1 0 -16 0M1236.7 1725.7a8 8 0 1 0 16 0a8 8 0 1 0 -16 0M1249.1 1774.7a8 8 0 1 0 16 0a8 8 0 1 0 -16 0M1259.1 1738.7a8 8 0 1 0 16 0a8 8 0 1 0 -16 0M1271.6 1760.7a8 8 0 1 0 16 0a8 8 0 1 0 -16 0M1280.6 1745.7a8 8 0 1 0 16 0a8 8 0 1 0 -16 0M1336.6 1624.8a8 8 0 1 0 16 0a8 8 0 1 0 -16 0M1346.6 1619.8a8 8 0 1 0 16 0a8 8 0 1 0 -16 0M1356.6 1647.3a8 8 0 1 0 16 0a8 8 0 1 0 -16 0M1369 1662.3a8 8 0 1 0 16 0a8 8 0 1 0 -16 0M1401.5 1618.8a8 8 0 1 0 16 0a8 8 0 1 0 -16 0M1414 1680.8a8 8 0 1 0 16 0a8 8 0 1 0 -16 0M1436.8 1653.3a8 8 0 1 0 16 0a8 8 0 1 0 -16 0M1445.8 1657.3a8 8 0 1 0 16 0a8 8 0 1 0 -16 0M1489.3 1710.8a8 8 0 1 0 16 0a8 8 0 1 0 -16 0M1501.8 1923.1a8 8 0 1 0 16 0a8 8 0 1 0 -16 0M1511.8 1789.7a8 8 0 1 0 16 0a8 8 0 1 0 -16 0M1520.8 1717.3a8 8 0 1 0 16 0a8 8 0 1 0 -16 0M1533.3 1564.9a8 8 0 1 0 16 0a8 8 0 1 0 -16 0M1544.3 1577.4a8 8 0 1 0 16 0a8 8 0 1 0 -16 0M1556.7 1598.8a8 8 0 1 0 16 0a8 8 0 1 0 -16 0M1565.7 1659.8a8 8 0 1 0 16 0a8 8 0 1 0 -16 0M1579.2 1668.8a8 8 0 1 0 16 0a8 8 0 1 0 -16 0M1587.7 1624.8a8 8 0 1 0 16 0a8 8 0 1 0 -16 0M1600.7 1668.8a8 8 0 1 0 16 0a8 8 0 1 0 -16 0M1610.7 1678.8a8 8 0 1 0 16 0a8 8 0 1 0 -16 0M1622.7 1614.8a8 8 0 1 0 16 0a8 8 0 1 0 -16 0M1631.7 1681.3a8 8 0 1 0 16 0a8 8 0 1 0 -16 0M1645.7 1707.3a8 8 0 1 0 16 0a8 8 0 1 0 -16 0M1654.2 1722.2a8 8 0 1 0 16 0a8 8 0 1 0 -16 0M1666.7 1713.8a8 8 0 1 0 16 0a8 8 0 1 0 -16 0M1675.6 1745.7a8 8 0 1 0 16 0a8 8 0 1 0 -16 0M1686.6 1745.7a8 8 0 1 0 16 0a8 8 0 1 0 -16 0M1699.1 1745.7a8 8 0 1 0 16 0a8 8 0 1 0 -16 0M1707.6 1754.7a8 8 0 1 0 16 0a8 8 0 1 0 -16 0M1720.6 1777.2a8 8 0 1 0 16 0a8 8 0 1 0 -16 0M1730.1 1653.3a8 8 0 1 0 16 0a8 8 0 1 0 -16 0M1741.6 1832.2a8 8 0 1 0 16 0a8 8 0 1 0 -16 0M1752.6 1817.2a8 8 0 1 0 16 0a8 8 0 1 0 -16 0M1764.1 1794.7a8 8 0 1 0 16 0a8 8 0 1 0 -16 0M1775.6 1812.2a8 8 0 1 0 16 0a8 8 0 1 0 -16 0M1786.6 1837.2a8 8 0 1 0 16 0a8 8 0 1 0 -16 0M1796.5 1852.1a8 8 0 1 0 16 0a8 8 0 1 0 -16 0M1809 1857.1a8 8 0 1 0 16 0a8 8 0 1 0 -16 0M1819 1862.1a8 8 0 1 0 16 0a8 8 0 1 0 -16 0M1830.5 1887.1a8 8 0 1 0 16 0a8 8 0 1 0 -16 0M1841.5 1894.6a8 8 0 1 0 16 0a8 8 0 1 0 -16 0M1851.5 1904.6a8 8 0 1 0 16 0a8 8 0 1 0 -16 0" fill="#b8ffcc" fill-opacity="0.4" stroke="#00cc4c" stroke-width="2.8"/>
<path d="M450.8 2000.7V1967.1H460.8V2000.7ZM471.3 2000.7V1924.6H479.8V1968H489.8V2000.7ZM750.6 2000.7V1981H760.5V2000.7ZM897.4 2000.7V1996H907.4V2000.7ZM959.9 2000.7V1993.5H969.9V2000.7ZM990.9 2000.7V1959.6H1000.8V2000.7ZM1023.8 2000.7V1988.5H1033.8V1954.6H1043.8V2000.7ZM1053.8 2000.7V1979.5H1063.8V1982H1073.8V1983.5H1084.3V1790.7H1093.8V2000.7ZM1137.2 2000.7V1943.1H1147.2V1835.7H1157.2V2000.7ZM1168.7 2000.7V1973.5H1178.7V1954.6H1188.7V1978.5H1198.7V2000.7ZM1209.7 2000.7V1995.5H1219.7V2000.7ZM1230.7 2000.7V1987H1240.7V1797.2H1250.6V2000.7ZM1282.1 2000.7V1972H1292.1V1826.2H1303.1V2000.7ZM1323.6 2000.7V1907.1H1333.6V2000.7ZM1387 2000.7V1914.6H1397V1830.7H1407V2000.7ZM1479.8 2000.7V1602.3H1489.8V2000.7ZM1554.7 2000.7V1919.6H1560.7V2000.7Z" fill="#0000e4" stroke="#000078" stroke-width="1.6" stroke-linejoin="miter"/>
</g>
<path d="M195.5 1413.9V2000.7H1860.3" fill="none" stroke="#222" stroke-width="2.6"/>
<path d="M195.5 1413.9H1860.3" fill="none" stroke="#333" stroke-width="2.3"/>
<path d="M1860.3 1413.9V2000.7" fill="none" stroke="#5c5c5c" stroke-width="2.4"/>
<path d="M402.9 2000.7v-17M402.9 1413.9v17M622 2000.7v-17M622 1413.9v17M841.1 2000.7v-17M841.1 1413.9v17M1060.2 2000.7v-17M1060.2 1413.9v17M1279.3 2000.7v-17M1279.3 1413.9v17M1498.4 2000.7v-17M1498.4 1413.9v17M1717.5 2000.7v-17M1717.5 1413.9v17M195.5 1756.2h17M1860.3 1756.2h-17M195.5 1511.7h17M1860.3 1511.7h-17" stroke="#222" stroke-width="2.2" fill="none"/>
<text x="400.6" y="2078.5" class="t" text-anchor="middle">140</text>
<text x="619.7" y="2078.5" class="t" text-anchor="middle">160</text>
<text x="838.8" y="2078.5" class="t" text-anchor="middle">180</text>
<text x="1057.9" y="2078.5" class="t" text-anchor="middle">200</text>
<text x="1277" y="2078.5" class="t" text-anchor="middle">220</text>
<text x="1496.1" y="2078.5" class="t" text-anchor="middle">240</text>
<text x="1715.2" y="2078.5" class="t" text-anchor="middle">260</text>
<text x="174.8" y="2023.7" class="t" text-anchor="end">0</text>
<text x="174.8" y="1779.2" class="t" text-anchor="end">0.5</text>
<text x="174.8" y="1534.7" class="t" text-anchor="end">1</text>
<text x="1880" y="2023.7" class="t">0</text>
<text x="1880" y="1779.2" class="t">30</text>
<text x="1880" y="1534.7" class="t">60</text>
<text class="al" transform="translate(71.5 1707.3) rotate(-90)" text-anchor="middle">EF (-)</text>
<text class="al" transform="translate(2015 1707.3) rotate(-90)" text-anchor="middle">Precipitation (mm)</text>
<text class="ti" x="295.0" y="1493.1" textLength="377.5" lengthAdjust="spacing">Audubon</text>
<clipPath id="c3"><rect x="195.5" y="2109.4" width="1664.8" height="587.9000000000001"/></clipPath>
<g clip-path="url(#c3)">
<path d="M194.5 2399.8 L205.5 2479.7 L216.5 2524.7 L227.5 2409.8 L238.5 2372.3 L249.5 2382.3 L260.4 2359.8 L271.4 2337.3 L282.4 2349.8 L293.4 2369.8 L304.4 2379.8 L315.4 2387.3 L326.4 2372.3 L337.4 2389.8 L347.9 2449.7 L358.9 2344.8 L370 2370 L381 2296.7 L392 2283.3 L403 2273.3 L414 2300 L424.7 2331.7 L435.7 2250 L446.7 2266.7 L457.7 2363.3 L468.7 2336.7 L479.7 2363.3 L490.7 2338.3 L501.3 2368.3 L512.3 2246.7 L523.3 2330 L534.3 2321.7 L545.3 2310 L556.3 2241.7 L567.3 2256.7 L578 2313.3 L589 2256.7 L600 2243.3 L611 2313.3 L622 2265 L633 2286.7 L644 2315 L655 2255 L665.7 2270 L676.7 2306.7 L687.7 2316.7 L698.7 2243.3 L709.7 2231.7 L720.7 2265 L731.7 2260 L742.3 2223.3 L753.3 2213.3 L764.3 2246.7 L775.3 2246.7 L797 2264.9 L808 2244.9 L819 2247.4 L830 2259.9 L841 2267.4 L852 2314.8 L863 2264.9 L873.9 2279.9 L884.9 2264.9 L895.9 2269.9 L906.9 2299.8 L917.9 2267.4 L928.9 2277.4 L939.9 2279.9 L950.4 2264.9 L961.4 2259.9 L972.4 2267.4 L983.4 2259.9 L994.4 2237.4 L1005.3 2242.4 L1016.3 2242.4 L1027.3 2254.9 L1038.3 2277.4 L1049.3 2299.8 L1059.8 2297.3 L1070.8 2244.9 L1081.8 2304.8 L1092.8 2292.3 L1103.8 2294.8 L1114.8 2267.4 L1125.7 2292.3 L1136.7 2314.8 L1147.7 2354.8 L1158.7 2344.8 L1169.2 2349.8 L1180.2 2309.8 L1191.2 2347.3 L1202.2 2349.8 L1213.2 2399.8 L1224.2 2372.3 L1235.2 2404.8 L1246.2 2409.8 L1257.1 2419.7 L1268.1 2424.7 L1279.1 2404.8 L1289.6 2419.7 L1300.6 2459.7 L1311.6 2397.3 L1322.6 2419.7 L1333.6 2397.3 L1344.6 2454.7 L1355.6 2389.8 L1366.6 2424.7 L1377.5 2394.8 L1388.5 2339.8 L1399.5 2399.8 L1410 2394.8 L1421 2409.8 L1432.3 2454.7 L1443.3 2424.7 L1454.3 2399.8 L1465.3 2392.3 L1476.3 2394.8 L1487.3 2399.8 L1498.3 2362.3 L1509.3 2307.3 L1520.3 2384.8 L1530.8 2424.7 L1541.8 2319.8 L1552.7 2302.3 L1563.7 2304.8 L1574.7 2299.8 L1585.7 2297.3 L1596.7 2287.4 L1607.7 2339.8 L1618.2 2274.9 L1629.2 2277.4 L1640.2 2279.9 L1651.2 2279.9 L1662.2 2279.9 L1673.2 2319.8 L1684.1 2279.9 L1695.1 2279.9 L1706.1 2272.4 L1717.1 2299.8 L1728.1 2304.8 L1739.1 2299.8 L1750.1 2262.4 L1761.1 2279.9 L1771.6 2312.3 L1782.6 2294.8 L1793.6 2232.4 L1804.5 2289.8 L1815.5 2297.3 L1826.5 2272.4 L1837.5 2302.3 L1848.5 2289.8 L1860.5 2282.4" fill="none" stroke="#f2871f" stroke-width="7" stroke-linejoin="round" stroke-linecap="butt"/>
<path d="M188 2502.2a8 8 0 1 0 16 0a8 8 0 1 0 -16 0M198 2538.6a8 8 0 1 0 16 0a8 8 0 1 0 -16 0M208 2482.2a8 8 0 1 0 16 0a8 8 0 1 0 -16 0M221 2442.2a8 8 0 1 0 16 0a8 8 0 1 0 -16 0M229.5 2387.3a8 8 0 1 0 16 0a8 8 0 1 0 -16 0M242 2402.3a8 8 0 1 0 16 0a8 8 0 1 0 -16 0M317.9 2337.3a8 8 0 1 0 16 0a8 8 0 1 0 -16 0M331.9 2392.3a8 8 0 1 0 16 0a8 8 0 1 0 -16 0M340.9 2394.8a8 8 0 1 0 16 0a8 8 0 1 0 -16 0M354.4 2352.3a8 8 0 1 0 16 0a8 8 0 1 0 -16 0M437.8 2206.4a8 8 0 1 0 16 0a8 8 0 1 0 -16 0M581.7 2192.4a8 8 0 1 0 16 0a8 8 0 1 0 -16 0M615.7 2169.9a8 8 0 1 0 16 0a8 8 0 1 0 -16 0M712.6 2202.4a8 8 0 1 0 16 0a8 8 0 1 0 -16 0M721.6 2191.4a8 8 0 1 0 16 0a8 8 0 1 0 -16 0M766.5 2181.4a8 8 0 1 0 16 0a8 8 0 1 0 -16 0M789 2286.4a8 8 0 1 0 16 0a8 8 0 1 0 -16 0M799 2214.9a8 8 0 1 0 16 0a8 8 0 1 0 -16 0M803 2213.9a8 8 0 1 0 16 0a8 8 0 1 0 -16 0M812 2248.9a8 8 0 1 0 16 0a8 8 0 1 0 -16 0M823 2288.8a8 8 0 1 0 16 0a8 8 0 1 0 -16 0M833 2209.9a8 8 0 1 0 16 0a8 8 0 1 0 -16 0M846 2228.9a8 8 0 1 0 16 0a8 8 0 1 0 -16 0M856 2277.4a8 8 0 1 0 16 0a8 8 0 1 0 -16 0M865.9 2283.9a8 8 0 1 0 16 0a8 8 0 1 0 -16 0M875.9 2267.4a8 8 0 1 0 16 0a8 8 0 1 0 -16 0M887.9 2263.9a8 8 0 1 0 16 0a8 8 0 1 0 -16 0M899.4 2219.9a8 8 0 1 0 16 0a8 8 0 1 0 -16 0M909.4 2287.4a8 8 0 1 0 16 0a8 8 0 1 0 -16 0M920.9 2314.8a8 8 0 1 0 16 0a8 8 0 1 0 -16 0M930.9 2267.4a8 8 0 1 0 16 0a8 8 0 1 0 -16 0M943.4 2263.9a8 8 0 1 0 16 0a8 8 0 1 0 -16 0M952.9 2219.9a8 8 0 1 0 16 0a8 8 0 1 0 -16 0M964.4 2288.8a8 8 0 1 0 16 0a8 8 0 1 0 -16 0M974.4 2297.3a8 8 0 1 0 16 0a8 8 0 1 0 -16 0M986.9 2296.3a8 8 0 1 0 16 0a8 8 0 1 0 -16 0M996.8 2279.9a8 8 0 1 0 16 0a8 8 0 1 0 -16 0M1009.3 2258.9a8 8 0 1 0 16 0a8 8 0 1 0 -16 0M1019.3 2238.9a8 8 0 1 0 16 0a8 8 0 1 0 -16 0M1026.8 2289.8a8 8 0 1 0 16 0a8 8 0 1 0 -16 0M1040.8 2340.8a8 8 0 1 0 16 0a8 8 0 1 0 -16 0M1050.8 2308.8a8 8 0 1 0 16 0a8 8 0 1 0 -16 0M1062.8 2294.8a8 8 0 1 0 16 0a8 8 0 1 0 -16 0M1071.8 2353.8a8 8 0 1 0 16 0a8 8 0 1 0 -16 0M1084.3 2340.8a8 8 0 1 0 16 0a8 8 0 1 0 -16 0M1095.8 2345.8a8 8 0 1 0 16 0a8 8 0 1 0 -16 0M1116.7 2330.8a8 8 0 1 0 16 0a8 8 0 1 0 -16 0M1129.2 2338.8a8 8 0 1 0 16 0a8 8 0 1 0 -16 0M1139.2 2365.8a8 8 0 1 0 16 0a8 8 0 1 0 -16 0M1151.7 2348.8a8 8 0 1 0 16 0a8 8 0 1 0 -16 0M1160.7 2435.7a8 8 0 1 0 16 0a8 8 0 1 0 -16 0M1172.7 2304.8a8 8 0 1 0 16 0a8 8 0 1 0 -16 0M1182.7 2425.7a8 8 0 1 0 16 0a8 8 0 1 0 -16 0M1194.2 2422.2a8 8 0 1 0 16 0a8 8 0 1 0 -16 0M1205.7 2434.7a8 8 0 1 0 16 0a8 8 0 1 0 -16 0M1215.7 2372.3a8 8 0 1 0 16 0a8 8 0 1 0 -16 0M1226.7 2333.8a8 8 0 1 0 16 0a8 8 0 1 0 -16 0M1237.7 2374.8a8 8 0 1 0 16 0a8 8 0 1 0 -16 0M1249.1 2402.3a8 8 0 1 0 16 0a8 8 0 1 0 -16 0M1259.1 2393.8a8 8 0 1 0 16 0a8 8 0 1 0 -16 0M1271.6 2384.8a8 8 0 1 0 16 0a8 8 0 1 0 -16 0M1280.6 2469.7a8 8 0 1 0 16 0a8 8 0 1 0 -16 0M1294.1 2475.7a8 8 0 1 0 16 0a8 8 0 1 0 -16 0M1304.1 2380.8a8 8 0 1 0 16 0a8 8 0 1 0 -16 0M1316.6 2394.8a8 8 0 1 0 16 0a8 8 0 1 0 -16 0M1322.6 2355.8a8 8 0 1 0 16 0a8 8 0 1 0 -16 0M1339.1 2467.2a8 8 0 1 0 16 0a8 8 0 1 0 -16 0M1348.1 2384.8a8 8 0 1 0 16 0a8 8 0 1 0 -16 0M1356.6 2438.7a8 8 0 1 0 16 0a8 8 0 1 0 -16 0M1369 2593.6a8 8 0 1 0 16 0a8 8 0 1 0 -16 0M1380 2402.3a8 8 0 1 0 16 0a8 8 0 1 0 -16 0M1392.5 2407.3a8 8 0 1 0 16 0a8 8 0 1 0 -16 0M1402.5 2384.8a8 8 0 1 0 16 0a8 8 0 1 0 -16 0M1412.5 2428.7a8 8 0 1 0 16 0a8 8 0 1 0 -16 0M1434.3 2428.7a8 8 0 1 0 16 0a8 8 0 1 0 -16 0M1445.8 2395.8a8 8 0 1 0 16 0a8 8 0 1 0 -16 0M1457.8 2388.8a8 8 0 1 0 16 0a8 8 0 1 0 -16 0M1467.8 2343.3a8 8 0 1 0 16 0a8 8 0 1 0 -16 0M1479.3 2348.8a8 8 0 1 0 16 0a8 8 0 1 0 -16 0M1489.3 2368.8a8 8 0 1 0 16 0a8 8 0 1 0 -16 0M1501.8 2352.3a8 8 0 1 0 16 0a8 8 0 1 0 -16 0M1511.8 2349.8a8 8 0 1 0 16 0a8 8 0 1 0 -16 0M1520.8 2384.8a8 8 0 1 0 16 0a8 8 0 1 0 -16 0M1534.3 2342.3a8 8 0 1 0 16 0a8 8 0 1 0 -16 0M1544.3 2353.8a8 8 0 1 0 16 0a8 8 0 1 0 -16 0M1555.7 2321.3a8 8 0 1 0 16 0a8 8 0 1 0 -16 0M1566.7 2324.8a8 8 0 1 0 16 0a8 8 0 1 0 -16 0M1577.7 2333.8a8 8 0 1 0 16 0a8 8 0 1 0 -16 0M1587.7 2355.8a8 8 0 1 0 16 0a8 8 0 1 0 -16 0M1599.2 2387.3a8 8 0 1 0 16 0a8 8 0 1 0 -16 0M1610.7 2314.8a8 8 0 1 0 16 0a8 8 0 1 0 -16 0M1622.7 2225.9a8 8 0 1 0 16 0a8 8 0 1 0 -16 0M1631.7 2184.9a8 8 0 1 0 16 0a8 8 0 1 0 -16 0M1644.2 2191.4a8 8 0 1 0 16 0a8 8 0 1 0 -16 0M1654.2 2263.9a8 8 0 1 0 16 0a8 8 0 1 0 -16 0M1666.7 2345.8a8 8 0 1 0 16 0a8 8 0 1 0 -16 0M1676.6 2292.3a8 8 0 1 0 16 0a8 8 0 1 0 -16 0M1685.6 2244.9a8 8 0 1 0 16 0a8 8 0 1 0 -16 0M1697.6 2217.4a8 8 0 1 0 16 0a8 8 0 1 0 -16 0M1709.1 2276.4a8 8 0 1 0 16 0a8 8 0 1 0 -16 0M1719.1 2343.8a8 8 0 1 0 16 0a8 8 0 1 0 -16 0M1730.6 2323.8a8 8 0 1 0 16 0a8 8 0 1 0 -16 0M1742.6 2292.3a8 8 0 1 0 16 0a8 8 0 1 0 -16 0M1751.6 2272.4a8 8 0 1 0 16 0a8 8 0 1 0 -16 0M1764.1 2327.3a8 8 0 1 0 16 0a8 8 0 1 0 -16 0M1774.1 2333.8a8 8 0 1 0 16 0a8 8 0 1 0 -16 0M1786.6 2337.3a8 8 0 1 0 16 0a8 8 0 1 0 -16 0M1795.5 2377.3a8 8 0 1 0 16 0a8 8 0 1 0 -16 0M1809 2323.8a8 8 0 1 0 16 0a8 8 0 1 0 -16 0M1819 2275.9a8 8 0 1 0 16 0a8 8 0 1 0 -16 0M1830.5 2339.8a8 8 0 1 0 16 0a8 8 0 1 0 -16 0M1839 2283.9a8 8 0 1 0 16 0a8 8 0 1 0 -16 0M1850.5 2284.9a8 8 0 1 0 16 0a8 8 0 1 0 -16 0M371.3 2281.7a8 8 0 1 0 16 0a8 8 0 1 0 -16 0M383.7 2274a8 8 0 1 0 16 0a8 8 0 1 0 -16 0M393.7 2250.7a8 8 0 1 0 16 0a8 8 0 1 0 -16 0M407 2255a8 8 0 1 0 16 0a8 8 0 1 0 -16 0M415.3 2288.3a8 8 0 1 0 16 0a8 8 0 1 0 -16 0M428.7 2250a8 8 0 1 0 16 0a8 8 0 1 0 -16 0M451.3 2287.3a8 8 0 1 0 16 0a8 8 0 1 0 -16 0M460.3 2270a8 8 0 1 0 16 0a8 8 0 1 0 -16 0M473.7 2320.7a8 8 0 1 0 16 0a8 8 0 1 0 -16 0M484.7 2327.3a8 8 0 1 0 16 0a8 8 0 1 0 -16 0M495.3 2316.7a8 8 0 1 0 16 0a8 8 0 1 0 -16 0M502 2296.7a8 8 0 1 0 16 0a8 8 0 1 0 -16 0M527 2283.3a8 8 0 1 0 16 0a8 8 0 1 0 -16 0M535.3 2232.3a8 8 0 1 0 16 0a8 8 0 1 0 -16 0M550.3 2290a8 8 0 1 0 16 0a8 8 0 1 0 -16 0M557 2253.3a8 8 0 1 0 16 0a8 8 0 1 0 -16 0M570.3 2238.3a8 8 0 1 0 16 0a8 8 0 1 0 -16 0M592.7 2220a8 8 0 1 0 16 0a8 8 0 1 0 -16 0M602.7 2241.7a8 8 0 1 0 16 0a8 8 0 1 0 -16 0M624.7 2311.7a8 8 0 1 0 16 0a8 8 0 1 0 -16 0M637 2220.7a8 8 0 1 0 16 0a8 8 0 1 0 -16 0M645.3 2250a8 8 0 1 0 16 0a8 8 0 1 0 -16 0M659.3 2241.7a8 8 0 1 0 16 0a8 8 0 1 0 -16 0M668.7 2263.3a8 8 0 1 0 16 0a8 8 0 1 0 -16 0M681.3 2292.7a8 8 0 1 0 16 0a8 8 0 1 0 -16 0M691.3 2246.7a8 8 0 1 0 16 0a8 8 0 1 0 -16 0M700.3 2220a8 8 0 1 0 16 0a8 8 0 1 0 -16 0M743.7 2233.3a8 8 0 1 0 16 0a8 8 0 1 0 -16 0" fill="#b8ffcc" fill-opacity="0.4" stroke="#00cc4c" stroke-width="2.8"/>
<path d="M263.4 2697.3V2584.6H272.4V2671H283.4V2689.5H293.4V2658.6H304.9V2674.5H314.9V2529.7H324.9V2697.3ZM335.9 2697.3V2693.5H345.9V2697.3ZM367.4 2697.3V2661.1H377.4V2663.5H387.3V2697.3ZM408.8 2697.3V2679.5H418.8V2697.3ZM439.8 2697.3V2679.5H450.3V2573.1H460.8V2697.3ZM513.7 2697.3V2666H523.7V2697.3ZM533.7 2697.3V2684.5H543.2V2602.1H553.2V2639.6H563.7V2688.5H573.7V2697.3ZM584.7 2697.3V2648.6H594.7V2613.6H605.7V2497.2H615.7V2679.5H627.2V2636.1H637.1V2681H647.1V2551.1H657.1V2682H668.1V2697.3ZM719.6 2697.3V2631.1H730.6V2697.3ZM761 2697.3V2532.2H771V2697.3ZM814 2697.3V2677H824V2697.3ZM857.5 2697.3V2522.2H867.5V2697.3ZM908.4 2697.3V2543.1H917.4V2697.3ZM1033.3 2697.3V2606.1H1043.3V2697.3ZM1085.8 2697.3V2648.6H1093.8V2697.3ZM1178.2 2697.3V2619.6H1188.2V2697.3ZM1260.6 2697.3V2649.6H1270.6V2697.3ZM1303.6 2697.3V2691H1312.6V2697.3ZM1323.6 2697.3V2679.5H1333.6V2179.9H1343.6V2697.3ZM1418.5 2697.3V2592.1H1428.5V2697.3ZM1522.3 2697.3V2517.2H1532.3V2697.3ZM1543.3 2697.3V2335.8H1553.2V2499.7H1562.2V2697.3ZM1594.7 2697.3V2576.1H1604.7V2697.3ZM1636.2 2697.3V2684.5H1646.2V2697.3ZM1656.2 2697.3V2524.7H1666.2V2677H1676.2V2697.3ZM1698.6 2697.3V2691H1708.6V2697.3ZM1719.6 2697.3V2592.1H1729.6V2597.1H1738.6V2697.3ZM1761.1 2697.3V2677H1771.1V2697.3Z" fill="#0000e4" stroke="#000078" stroke-width="1.6" stroke-linejoin="miter"/>
</g>
<path d="M195.5 2109.4V2697.3H1860.3" fill="none" stroke="#222" stroke-width="2.6"/>
<path d="M195.5 2109.4H1860.3" fill="none" stroke="#333" stroke-width="2.3"/>
<path d="M1860.3 2109.4V2697.3" fill="none" stroke="#5c5c5c" stroke-width="2.4"/>
<path d="M402.9 2697.3v-17M402.9 2109.4v17M622 2697.3v-17M622 2109.4v17M841.1 2697.3v-17M841.1 2109.4v17M1060.2 2697.3v-17M1060.2 2109.4v17M1279.3 2697.3v-17M1279.3 2109.4v17M1498.4 2697.3v-17M1498.4 2109.4v17M1717.5 2697.3v-17M1717.5 2109.4v17M195.5 2452.3h17M1860.3 2452.3h-17M195.5 2207.4h17M1860.3 2207.4h-17" stroke="#222" stroke-width="2.2" fill="none"/>
<text x="400.6" y="2775.1" class="t" text-anchor="middle">140</text>
<text x="619.7" y="2775.1" class="t" text-anchor="middle">160</text>
<text x="838.8" y="2775.1" class="t" text-anchor="middle">180</text>
<text x="1057.9" y="2775.1" class="t" text-anchor="middle">200</text>
<text x="1277" y="2775.1" class="t" text-anchor="middle">220</text>
<text x="1496.1" y="2775.1" class="t" text-anchor="middle">240</text>
<text x="1715.2" y="2775.1" class="t" text-anchor="middle">260</text>
<text x="174.8" y="2720.3" class="t" text-anchor="end">0</text>
<text x="174.8" y="2475.3" class="t" text-anchor="end">0.5</text>
<text x="174.8" y="2230.4" class="t" text-anchor="end">1</text>
<text x="1880" y="2720.3" class="t">0</text>
<text x="1880" y="2475.3" class="t">30</text>
<text x="1880" y="2230.4" class="t">60</text>
<text class="al" transform="translate(71.5 2403.4) rotate(-90)" text-anchor="middle">EF (-)</text>
<text class="al" transform="translate(2015 2403.4) rotate(-90)" text-anchor="middle">Precipitation (mm)</text>
<text class="ti" x="294.3" y="2188.6" textLength="430.09999999999997" lengthAdjust="spacing">Brookings</text>
<clipPath id="c4"><rect x="195.5" y="2807.8" width="1664.8" height="585.3999999999996"/></clipPath>
<g clip-path="url(#c4)">
<path d="M194.5 3299.6 L205.5 3294.6 L216.5 3357.1 L227.5 3349.6 L238.5 3317.1 L249.5 3329.6 L260.4 3297.1 L271.4 3297.1 L282.4 3292.1 L293.4 3287.1 L304.4 3309.6 L315.4 3302.1 L326.4 3289.6 L337.4 3292.1 L347.9 3302.1 L358.9 3247.1 L369.9 3252.1 L380.8 3234.7 L391.8 3239.6 L402.8 3212.2 L413.8 3239.6 L424.8 3239.6 L435.8 3237.2 L446.3 3167.2 L457.3 3227.2 L468.3 3229.7 L479.3 3227.2 L490.3 3194.7 L501.3 3184.7 L512.2 3204.7 L523.2 3214.7 L534.2 3222.2 L545.2 3224.7 L556.2 3209.7 L567.2 3214.7 L578.2 3219.7 L589.2 3252.1 L599.7 3194.7 L610.7 3227.2 L621.7 3179.7 L632.6 3162.2 L643.6 3197.2 L654.6 3139.7 L665.6 3062.3 L676.6 3079.8 L687.6 3154.7 L698.1 3164.7 L709.1 3169.7 L720.1 3139.7 L731.1 3119.7 L742.1 3094.8 L753 3099.8 L764 3117.2 L775 3087.3 L786 3079.8 L797 3017.3 L808 3094.8 L819 3019.8 L830 3079.8 L841 3094.8 L852 3104.8 L863 3112.3 L873.9 3119.7 L884.9 3032.3 L895.9 3037.3 L906.9 3052.3 L917.9 3009.8 L928.9 3069.8 L939.9 3032.3 L950.4 3029.8 L961.4 3024.8 L972.4 3029.8 L983.4 2927.4 L994.4 2964.9 L1005.3 2979.9 L1016.3 3012.3 L1027.3 2987.4 L1038.3 3009.8 L1049.3 3049.8 L1059.8 3132.2 L1070.8 3059.8 L1081.8 3022.3 L1092.8 3012.3 L1103.8 3009.8 L1114.8 3009.8 L1125.7 2939.9 L1136.7 3049.8 L1147.7 3109.8 L1158.7 3044.8 L1169.2 2982.4 L1180.2 3062.3 L1191.2 3034.8 L1202.2 3054.8 L1213.2 3007.3 L1224.2 3002.3 L1235.2 3064.8 L1246.2 3117.2 L1257.1 3067.3 L1268.1 3062.3 L1279.1 3042.3 L1289.6 3022.3 L1300.6 3069.8 L1311.6 3024.8 L1322.6 3049.8 L1333.6 3089.8 L1344.6 3099.8 L1355.6 3079.8 L1366.6 3049.8 L1377.5 3032.3 L1388.5 3022.3 L1399.5 3037.3 L1410 3059.8 L1421 3044.8 L1432.3 3084.8 L1443.3 3119.7 L1454.3 3042.3 L1465.3 3039.8 L1476.3 3022.3 L1487.3 3057.3 L1498.3 3054.8 L1509.3 3069.8 L1520.3 3054.8 L1530.8 3134.7 L1541.8 3144.7 L1552.7 3157.2 L1563.7 3109.8 L1574.7 3154.7 L1585.7 3107.3 L1596.7 3157.2 L1607.7 3114.7 L1618.2 3144.7 L1629.2 3144.7 L1640.2 3029.8 L1651.2 3107.3 L1662.2 3047.3 L1673.2 3127.2 L1684.1 3134.7 L1695.1 3169.7 L1706.1 3149.7 L1717.1 3119.7 L1728.1 3122.2 L1739.1 3124.7 L1750.1 3132.2 L1761.1 3119.7 L1771.6 3129.7 L1782.6 3124.7 L1793.6 3124.7 L1804.5 3127.2 L1815.5 3139.7 L1826.5 3142.2 L1837.5 3114.7 L1848.5 3147.2 L1860.5 3149.7" fill="none" stroke="#f2871f" stroke-width="7" stroke-linejoin="round" stroke-linecap="butt"/>
<path d="M187 3309.6a8 8 0 1 0 16 0a8 8 0 1 0 -16 0M197 3314.6a8 8 0 1 0 16 0a8 8 0 1 0 -16 0M208 3319.6a8 8 0 1 0 16 0a8 8 0 1 0 -16 0M218 3314.6a8 8 0 1 0 16 0a8 8 0 1 0 -16 0M231 3309.6a8 8 0 1 0 16 0a8 8 0 1 0 -16 0M242 3304.6a8 8 0 1 0 16 0a8 8 0 1 0 -16 0M251.9 3297.1a8 8 0 1 0 16 0a8 8 0 1 0 -16 0M264.4 3242.1a8 8 0 1 0 16 0a8 8 0 1 0 -16 0M274.4 3267.1a8 8 0 1 0 16 0a8 8 0 1 0 -16 0M286.9 3254.6a8 8 0 1 0 16 0a8 8 0 1 0 -16 0M296.9 3319.6a8 8 0 1 0 16 0a8 8 0 1 0 -16 0M309.4 3249.6a8 8 0 1 0 16 0a8 8 0 1 0 -16 0M315.9 3322.1a8 8 0 1 0 16 0a8 8 0 1 0 -16 0M330.9 3249.6a8 8 0 1 0 16 0a8 8 0 1 0 -16 0M340.9 3270.6a8 8 0 1 0 16 0a8 8 0 1 0 -16 0M354.4 3269.6a8 8 0 1 0 16 0a8 8 0 1 0 -16 0M362.9 3280.6a8 8 0 1 0 16 0a8 8 0 1 0 -16 0M371.8 3099.8a8 8 0 1 0 16 0a8 8 0 1 0 -16 0M384.3 3387a8 8 0 1 0 16 0a8 8 0 1 0 -16 0M394.3 3243.6a8 8 0 1 0 16 0a8 8 0 1 0 -16 0M406.8 3228.7a8 8 0 1 0 16 0a8 8 0 1 0 -16 0M416.8 3179.7a8 8 0 1 0 16 0a8 8 0 1 0 -16 0M427.8 3257.1a8 8 0 1 0 16 0a8 8 0 1 0 -16 0M438.3 3239.6a8 8 0 1 0 16 0a8 8 0 1 0 -16 0M449.3 3210.7a8 8 0 1 0 16 0a8 8 0 1 0 -16 0M460.8 3209.7a8 8 0 1 0 16 0a8 8 0 1 0 -16 0M471.8 3209.7a8 8 0 1 0 16 0a8 8 0 1 0 -16 0M483.3 3208.7a8 8 0 1 0 16 0a8 8 0 1 0 -16 0M494.3 3187.2a8 8 0 1 0 16 0a8 8 0 1 0 -16 0M505.7 3219.7a8 8 0 1 0 16 0a8 8 0 1 0 -16 0M516.7 3188.7a8 8 0 1 0 16 0a8 8 0 1 0 -16 0M525.7 3172.2a8 8 0 1 0 16 0a8 8 0 1 0 -16 0M536.7 3182.2a8 8 0 1 0 16 0a8 8 0 1 0 -16 0M549.2 3147.2a8 8 0 1 0 16 0a8 8 0 1 0 -16 0M560.7 3234.7a8 8 0 1 0 16 0a8 8 0 1 0 -16 0M570.7 3159.7a8 8 0 1 0 16 0a8 8 0 1 0 -16 0M581.7 3169.7a8 8 0 1 0 16 0a8 8 0 1 0 -16 0M592.7 3097.3a8 8 0 1 0 16 0a8 8 0 1 0 -16 0M602.7 3118.2a8 8 0 1 0 16 0a8 8 0 1 0 -16 0M615.7 3073.8a8 8 0 1 0 16 0a8 8 0 1 0 -16 0M624.1 3122.2a8 8 0 1 0 16 0a8 8 0 1 0 -16 0M636.6 3093.8a8 8 0 1 0 16 0a8 8 0 1 0 -16 0M646.6 3138.7a8 8 0 1 0 16 0a8 8 0 1 0 -16 0M660.6 3149.7a8 8 0 1 0 16 0a8 8 0 1 0 -16 0M669.1 3174.7a8 8 0 1 0 16 0a8 8 0 1 0 -16 0M680.6 3198.2a8 8 0 1 0 16 0a8 8 0 1 0 -16 0M690.6 3144.7a8 8 0 1 0 16 0a8 8 0 1 0 -16 0M701.6 3130.7a8 8 0 1 0 16 0a8 8 0 1 0 -16 0M714.1 3135.7a8 8 0 1 0 16 0a8 8 0 1 0 -16 0M722.6 3097.3a8 8 0 1 0 16 0a8 8 0 1 0 -16 0M735.6 3060.8a8 8 0 1 0 16 0a8 8 0 1 0 -16 0M745.5 3035.8a8 8 0 1 0 16 0a8 8 0 1 0 -16 0M756.5 3048.3a8 8 0 1 0 16 0a8 8 0 1 0 -16 0M766.5 3024.8a8 8 0 1 0 16 0a8 8 0 1 0 -16 0M779 2978.9a8 8 0 1 0 16 0a8 8 0 1 0 -16 0M789 3003.8a8 8 0 1 0 16 0a8 8 0 1 0 -16 0M800.5 3012.3a8 8 0 1 0 16 0a8 8 0 1 0 -16 0M804.5 3010.8a8 8 0 1 0 16 0a8 8 0 1 0 -16 0M811 2998.8a8 8 0 1 0 16 0a8 8 0 1 0 -16 0M823 3077.3a8 8 0 1 0 16 0a8 8 0 1 0 -16 0M833 3115.7a8 8 0 1 0 16 0a8 8 0 1 0 -16 0M846 2913.9a8 8 0 1 0 16 0a8 8 0 1 0 -16 0M854.5 3134.7a8 8 0 1 0 16 0a8 8 0 1 0 -16 0M864.5 3074.8a8 8 0 1 0 16 0a8 8 0 1 0 -16 0M875.9 3029.8a8 8 0 1 0 16 0a8 8 0 1 0 -16 0M886.9 3007.3a8 8 0 1 0 16 0a8 8 0 1 0 -16 0M899.4 3188.7a8 8 0 1 0 16 0a8 8 0 1 0 -16 0M907.9 3080.8a8 8 0 1 0 16 0a8 8 0 1 0 -16 0M920.9 3052.3a8 8 0 1 0 16 0a8 8 0 1 0 -16 0M930.9 3013.8a8 8 0 1 0 16 0a8 8 0 1 0 -16 0M942.9 3027.3a8 8 0 1 0 16 0a8 8 0 1 0 -16 0M952.9 2978.9a8 8 0 1 0 16 0a8 8 0 1 0 -16 0M964.4 2972.4a8 8 0 1 0 16 0a8 8 0 1 0 -16 0M974.4 2973.9a8 8 0 1 0 16 0a8 8 0 1 0 -16 0M986.9 2992.3a8 8 0 1 0 16 0a8 8 0 1 0 -16 0M996.8 3004.8a8 8 0 1 0 16 0a8 8 0 1 0 -16 0M1007.8 2992.3a8 8 0 1 0 16 0a8 8 0 1 0 -16 0M1019.3 2967.4a8 8 0 1 0 16 0a8 8 0 1 0 -16 0M1029.3 2925.9a8 8 0 1 0 16 0a8 8 0 1 0 -16 0M1041.8 2979.9a8 8 0 1 0 16 0a8 8 0 1 0 -16 0M1051.8 3062.3a8 8 0 1 0 16 0a8 8 0 1 0 -16 0M1062.8 3027.3a8 8 0 1 0 16 0a8 8 0 1 0 -16 0M1071.8 2998.8a8 8 0 1 0 16 0a8 8 0 1 0 -16 0M1084.3 2998.8a8 8 0 1 0 16 0a8 8 0 1 0 -16 0M1095.8 2850a8 8 0 1 0 16 0a8 8 0 1 0 -16 0M1106.8 2994.8a8 8 0 1 0 16 0a8 8 0 1 0 -16 0M1116.7 2865.9a8 8 0 1 0 16 0a8 8 0 1 0 -16 0M1129.2 3058.8a8 8 0 1 0 16 0a8 8 0 1 0 -16 0M1140.7 3044.8a8 8 0 1 0 16 0a8 8 0 1 0 -16 0M1151.7 3034.8a8 8 0 1 0 16 0a8 8 0 1 0 -16 0M1161.7 3019.8a8 8 0 1 0 16 0a8 8 0 1 0 -16 0M1174.2 3027.3a8 8 0 1 0 16 0a8 8 0 1 0 -16 0M1184.2 3027.3a8 8 0 1 0 16 0a8 8 0 1 0 -16 0M1194.2 3013.8a8 8 0 1 0 16 0a8 8 0 1 0 -16 0M1204.2 2925.9a8 8 0 1 0 16 0a8 8 0 1 0 -16 0M1214.2 2934.9a8 8 0 1 0 16 0a8 8 0 1 0 -16 0M1229.2 3034.8a8 8 0 1 0 16 0a8 8 0 1 0 -16 0M1239.2 3024.8a8 8 0 1 0 16 0a8 8 0 1 0 -16 0M1250.6 3017.3a8 8 0 1 0 16 0a8 8 0 1 0 -16 0M1260.6 3030.8a8 8 0 1 0 16 0a8 8 0 1 0 -16 0M1271.6 2985.9a8 8 0 1 0 16 0a8 8 0 1 0 -16 0M1280.6 3042.3a8 8 0 1 0 16 0a8 8 0 1 0 -16 0M1294.1 3017.3a8 8 0 1 0 16 0a8 8 0 1 0 -16 0M1316.6 3039.8a8 8 0 1 0 16 0a8 8 0 1 0 -16 0M1326.6 3067.3a8 8 0 1 0 16 0a8 8 0 1 0 -16 0M1336.6 3072.3a8 8 0 1 0 16 0a8 8 0 1 0 -16 0M1347.6 3039.8a8 8 0 1 0 16 0a8 8 0 1 0 -16 0M1357.6 3077.3a8 8 0 1 0 16 0a8 8 0 1 0 -16 0M1369 3019.8a8 8 0 1 0 16 0a8 8 0 1 0 -16 0M1379 3128.7a8 8 0 1 0 16 0a8 8 0 1 0 -16 0M1391.5 3058.8a8 8 0 1 0 16 0a8 8 0 1 0 -16 0M1401.5 3087.3a8 8 0 1 0 16 0a8 8 0 1 0 -16 0M1412.5 3159.7a8 8 0 1 0 16 0a8 8 0 1 0 -16 0M1424.3 3141.2a8 8 0 1 0 16 0a8 8 0 1 0 -16 0M1436.8 3141.2a8 8 0 1 0 16 0a8 8 0 1 0 -16 0M1445.8 3047.3a8 8 0 1 0 16 0a8 8 0 1 0 -16 0M1457.8 3089.8a8 8 0 1 0 16 0a8 8 0 1 0 -16 0M1466.8 3073.8a8 8 0 1 0 16 0a8 8 0 1 0 -16 0M1480.8 3077.3a8 8 0 1 0 16 0a8 8 0 1 0 -16 0M1489.3 3143.7a8 8 0 1 0 16 0a8 8 0 1 0 -16 0M1501.8 3157.2a8 8 0 1 0 16 0a8 8 0 1 0 -16 0M1510.8 3118.7a8 8 0 1 0 16 0a8 8 0 1 0 -16 0M1520.8 3169.7a8 8 0 1 0 16 0a8 8 0 1 0 -16 0M1534.3 3109.8a8 8 0 1 0 16 0a8 8 0 1 0 -16 0M1542.8 3217.2a8 8 0 1 0 16 0a8 8 0 1 0 -16 0M1555.7 3153.7a8 8 0 1 0 16 0a8 8 0 1 0 -16 0M1565.7 3169.7a8 8 0 1 0 16 0a8 8 0 1 0 -16 0M1577.7 3183.2a8 8 0 1 0 16 0a8 8 0 1 0 -16 0M1587.7 3217.2a8 8 0 1 0 16 0a8 8 0 1 0 -16 0M1600.2 3027.3a8 8 0 1 0 16 0a8 8 0 1 0 -16 0M1610.7 3167.2a8 8 0 1 0 16 0a8 8 0 1 0 -16 0M1622.7 3213.7a8 8 0 1 0 16 0a8 8 0 1 0 -16 0M1631.7 3188.7a8 8 0 1 0 16 0a8 8 0 1 0 -16 0M1644.2 3213.7a8 8 0 1 0 16 0a8 8 0 1 0 -16 0M1654.2 3175.7a8 8 0 1 0 16 0a8 8 0 1 0 -16 0M1666.7 3153.7a8 8 0 1 0 16 0a8 8 0 1 0 -16 0M1675.6 3135.7a8 8 0 1 0 16 0a8 8 0 1 0 -16 0M1686.6 3147.2a8 8 0 1 0 16 0a8 8 0 1 0 -16 0M1699.1 3164.7a8 8 0 1 0 16 0a8 8 0 1 0 -16 0M1709.1 3132.2a8 8 0 1 0 16 0a8 8 0 1 0 -16 0M1720.6 3154.7a8 8 0 1 0 16 0a8 8 0 1 0 -16 0M1730.6 3179.7a8 8 0 1 0 16 0a8 8 0 1 0 -16 0M1741.6 3115.7a8 8 0 1 0 16 0a8 8 0 1 0 -16 0M1751.6 3143.7a8 8 0 1 0 16 0a8 8 0 1 0 -16 0M1764.1 3175.7a8 8 0 1 0 16 0a8 8 0 1 0 -16 0M1774.1 3144.7a8 8 0 1 0 16 0a8 8 0 1 0 -16 0M1786.6 3271.1a8 8 0 1 0 16 0a8 8 0 1 0 -16 0M1796.5 3302.1a8 8 0 1 0 16 0a8 8 0 1 0 -16 0M1809 3169.7a8 8 0 1 0 16 0a8 8 0 1 0 -16 0M1819 3147.2a8 8 0 1 0 16 0a8 8 0 1 0 -16 0M1830.5 3387a8 8 0 1 0 16 0a8 8 0 1 0 -16 0M1840.5 3169.7a8 8 0 1 0 16 0a8 8 0 1 0 -16 0M1851.5 3174.7a8 8 0 1 0 16 0a8 8 0 1 0 -16 0" fill="#b8ffcc" fill-opacity="0.4" stroke="#00cc4c" stroke-width="2.8"/>
<path d="M252.5 3393.2V3387H262.4V3393.2ZM273.9 3393.2V3369.5H284.9V3363.5H294.9V3351.1H304.9V3387H314.9V3393.2ZM325.9 3393.2V3278.1H335.9V3361.1H345.9V3387H355.9V3393.2ZM377.4 3393.2V3359.6H387.3V3370.5H397.3V3387H405.8V3393.2ZM450.8 3393.2V3370.5H460.8V3393.2ZM472.3 3393.2V3370.5H482.3V3370.5H492.3V3389.5H502.3V3393.2ZM554.7 3393.2V3168.7H564.7V3284.6H574.7V3393.2ZM619.7 3393.2V3374.5H628.6V3351.1H638.6V3393.2ZM648.6 3393.2V3217.2H657.1V3312.1H668.1V3387H678.1V3393.2ZM732.1 3393.2V3377H742.1V3384.5H752.1V3393.2ZM824 3393.2V3138.7H834V3389.5H844V3393.2ZM867.5 3393.2V3375.5H875.9V3393.2ZM887.4 3393.2V3354.6H897.4V3393.2ZM1012.3 3393.2V3248.1H1022.3V3393.2ZM1064.8 3393.2V3376H1074.8V3207.2H1084.8V3354.6H1093.8V3364.5H1103.8V3393.2ZM1115.8 3393.2V3308.1H1125.7V3393.2ZM1189.7 3393.2V3352.1H1198.7V3393.2ZM1241.2 3393.2V3308.1H1251.1V3393.2ZM1324.6 3393.2V3388.5H1334.6V3324.6H1343.6V3393.2ZM1408 3393.2V3381H1418V3370.5H1428V3393.2ZM1459.8 3393.2V3390.5H1469.8V3393.2ZM1478.8 3393.2V3390.5H1488.8V3393.2ZM1499.8 3393.2V3387H1509.8V3393.2ZM1594.7 3393.2V3258.1H1604.7V3329.6H1613.7V3393.2ZM1667.2 3393.2V3283.1H1677.2V3393.2ZM1688.1 3393.2V3313.1H1698.1V3393.2ZM1719.6 3393.2V3387H1729.6V3288.6H1738.6V3382H1749.6V3393.2ZM1761.1 3393.2V3278.1H1771.1V3393.2Z" fill="#0000e4" stroke="#000078" stroke-width="1.6" stroke-linejoin="miter"/>
</g>
<path d="M195.5 2807.8V3393.2H1860.3" fill="none" stroke="#222" stroke-width="2.6"/>
<path d="M195.5 2807.8H1860.3" fill="none" stroke="#333" stroke-width="2.3"/>
<path d="M1860.3 2807.8V3393.2" fill="none" stroke="#5c5c5c" stroke-width="2.4"/>
<path d="M402.9 3393.2v-17M402.9 2807.8v17M622 3393.2v-17M622 2807.8v17M841.1 3393.2v-17M841.1 2807.8v17M1060.2 3393.2v-17M1060.2 2807.8v17M1279.3 3393.2v-17M1279.3 2807.8v17M1498.4 3393.2v-17M1498.4 2807.8v17M1717.5 3393.2v-17M1717.5 2807.8v17M195.5 3149.3h17M1860.3 3149.3h-17M195.5 2905.4h17M1860.3 2905.4h-17" stroke="#222" stroke-width="2.2" fill="none"/>
<text x="400.6" y="3471" class="t" text-anchor="middle">140</text>
<text x="619.7" y="3471" class="t" text-anchor="middle">160</text>
<text x="838.8" y="3471" class="t" text-anchor="middle">180</text>
<text x="1057.9" y="3471" class="t" text-anchor="middle">200</text>
<text x="1277" y="3471" class="t" text-anchor="middle">220</text>
<text x="1496.1" y="3471" class="t" text-anchor="middle">240</text>
<text x="1715.2" y="3471" class="t" text-anchor="middle">260</text>
<text x="174.8" y="3416.2" class="t" text-anchor="end">0</text>
<text x="174.8" y="3172.3" class="t" text-anchor="end">0.5</text>
<text x="174.8" y="2928.4" class="t" text-anchor="end">1</text>
<text x="1880" y="3416.2" class="t">0</text>
<text x="1880" y="3172.3" class="t">30</text>
<text x="1880" y="2928.4" class="t">60</text>
<text class="al" transform="translate(71.5 3100.5) rotate(-90)" text-anchor="middle">EF (-)</text>
<text class="al" transform="translate(2015 3100.5) rotate(-90)" text-anchor="middle">Precipitation (mm)</text>
<text class="ti" x="297.0" y="2887" textLength="544.5" lengthAdjust="spacing">Willow Creek</text>
<clipPath id="c5"><rect x="195.5" y="3503.2" width="1664.8" height="587.3000000000002"/></clipPath>
<g clip-path="url(#c5)">
<path d="M194.5 4077 L205.5 4077 L216.5 4079.5 L227.5 4079.5 L238.5 4074.5 L249.5 4064.5 L260.4 4075.5 L271.4 4077 L282.4 4077 L293.4 4079.5 L304.4 4078.5 L315.4 4079.5 L326.4 4075.5 L337.4 4059.5 L347.9 4077 L358.9 4067 L369.9 4064.5 L380.8 4077 L391.8 4062 L402.8 4074.5 L413.8 4077 L424.8 4078.5 L435.8 4078.5 L446.3 4079.5 L457.3 4077 L468.3 4074.5 L479.3 4064.5 L490.3 4079.5 L501.3 4077 L512.2 4054.6 L523.2 4052.1 L534.2 4074.5 L545.2 4077 L556.2 4059.5 L567.2 4052.1 L578.2 4047.1 L589.2 4059.5 L599.7 4074.5 L610.7 4064.5 L621.7 4052.1 L632.6 4067 L643.6 4077 L654.6 4077 L665.6 4077 L676.6 4077 L687.6 4077 L698.1 4074.5 L709.1 4064.5 L720.1 4069.5 L731.1 4077 L742.1 4079.5 L753 4078.5 L764 4078.5 L775 4078.5 L786 4077 L797 4078.5 L808 4078.5 L819 4075.5 L830 4074.5 L841 4074.5 L852 4073.5 L863 4077 L873.9 4078.5 L884.9 4075.5 L895.9 4067 L906.9 4069.5 L917.9 4047.1 L928.9 4064.5 L939.9 4059.5 L950.4 4077 L961.4 4079.5 L972.4 4044.6 L983.4 4022.1 L994.4 4039.6 L1005.3 4079.5 L1016.3 4077 L1027.3 4078.5 L1038.3 4077 L1049.3 4074.5 L1059.8 4079.5 L1070.8 4078.5 L1081.8 4064.5 L1092.8 3852.2 L1103.8 3984.6 L1114.8 4014.6 L1125.7 4024.6 L1136.7 4037.1 L1147.7 4054.6 L1158.7 4077 L1169.2 4004.6 L1180.2 4002.1 L1191.2 4082 L1202.2 4057.1 L1213.2 4067 L1224.2 4059.5 L1235.2 4049.6 L1246.2 4074.5 L1257.1 4067 L1268.1 4059.5 L1279.1 4077 L1289.6 4057.1 L1300.6 4069.5 L1311.6 4062 L1322.6 4052.1 L1333.6 4074.5 L1344.6 4077 L1355.6 4074.5 L1366.6 4062 L1377.5 4072 L1388.5 4078.5 L1399.5 4074.5 L1410 4079.5 L1421 4079.5 L1432.3 4074.5 L1443.3 4077 L1454.3 4072 L1465.3 4064.5 L1476.3 4059.5 L1487.3 4069.5 L1498.3 4078.5 L1509.3 4069.5 L1520.3 4073.5 L1530.8 4067 L1541.8 4057.1 L1552.7 4064.5 L1563.7 3957.1 L1574.7 3934.6 L1585.7 4079.5 L1596.7 4082 L1607.7 4082 L1618.2 4082 L1629.2 4082 L1640.2 3757.3 L1651.2 3814.7 L1662.2 3989.6 L1673.2 4009.6 L1684.1 4044.6 L1695.1 4037.1 L1706.1 4042.1 L1717.1 4082 L1728.1 4082 L1739.1 4082 L1750.1 4082 L1761.1 4064.5 L1771.6 4082 L1782.6 4062 L1793.6 4082 L1804.5 4082 L1815.5 4082 L1826.5 4082 L1837.5 4064.5 L1848.5 4069.5 L1860.5 3999.6" fill="none" stroke="#f2871f" stroke-width="7" stroke-linejoin="round" stroke-linecap="butt"/>
<path d="M460.8 4018.1a8 8 0 1 0 16 0a8 8 0 1 0 -16 0M580.2 4036.1a8 8 0 1 0 16 0a8 8 0 1 0 -16 0M624.1 4062a8 8 0 1 0 16 0a8 8 0 1 0 -16 0M690.6 4060.5a8 8 0 1 0 16 0a8 8 0 1 0 -16 0M702.6 4067a8 8 0 1 0 16 0a8 8 0 1 0 -16 0M186.7 4080a8 8 0 1 0 16 0a8 8 0 1 0 -16 0M192.2 4078.5a8 8 0 1 0 16 0a8 8 0 1 0 -16 0M197.7 4080.5a8 8 0 1 0 16 0a8 8 0 1 0 -16 0M203.2 4077.5a8 8 0 1 0 16 0a8 8 0 1 0 -16 0M208.6 4078a8 8 0 1 0 16 0a8 8 0 1 0 -16 0M214.1 4081.5a8 8 0 1 0 16 0a8 8 0 1 0 -16 0M219.6 4078a8 8 0 1 0 16 0a8 8 0 1 0 -16 0M225.1 4080a8 8 0 1 0 16 0a8 8 0 1 0 -16 0M230.5 4077.5a8 8 0 1 0 16 0a8 8 0 1 0 -16 0M236 4081.5a8 8 0 1 0 16 0a8 8 0 1 0 -16 0M241.5 4079a8 8 0 1 0 16 0a8 8 0 1 0 -16 0M247 4077.5a8 8 0 1 0 16 0a8 8 0 1 0 -16 0M252.4 4078a8 8 0 1 0 16 0a8 8 0 1 0 -16 0M257.9 4080.5a8 8 0 1 0 16 0a8 8 0 1 0 -16 0M263.4 4080.5a8 8 0 1 0 16 0a8 8 0 1 0 -16 0M268.8 4078a8 8 0 1 0 16 0a8 8 0 1 0 -16 0M274.3 4079a8 8 0 1 0 16 0a8 8 0 1 0 -16 0M279.8 4078a8 8 0 1 0 16 0a8 8 0 1 0 -16 0M285.3 4081.5a8 8 0 1 0 16 0a8 8 0 1 0 -16 0M290.7 4080.5a8 8 0 1 0 16 0a8 8 0 1 0 -16 0M296.2 4077.5a8 8 0 1 0 16 0a8 8 0 1 0 -16 0M301.7 4078a8 8 0 1 0 16 0a8 8 0 1 0 -16 0M307.2 4079a8 8 0 1 0 16 0a8 8 0 1 0 -16 0M312.6 4077.5a8 8 0 1 0 16 0a8 8 0 1 0 -16 0M318.1 4080.5a8 8 0 1 0 16 0a8 8 0 1 0 -16 0M323.6 4077.5a8 8 0 1 0 16 0a8 8 0 1 0 -16 0M329 4079a8 8 0 1 0 16 0a8 8 0 1 0 -16 0M334.5 4077.5a8 8 0 1 0 16 0a8 8 0 1 0 -16 0M340 4081.5a8 8 0 1 0 16 0a8 8 0 1 0 -16 0M345.5 4078.5a8 8 0 1 0 16 0a8 8 0 1 0 -16 0M350.9 4079.5a8 8 0 1 0 16 0a8 8 0 1 0 -16 0M356.4 4080.5a8 8 0 1 0 16 0a8 8 0 1 0 -16 0M361.9 4078.5a8 8 0 1 0 16 0a8 8 0 1 0 -16 0M367.4 4081.5a8 8 0 1 0 16 0a8 8 0 1 0 -16 0M372.8 4078a8 8 0 1 0 16 0a8 8 0 1 0 -16 0M378.3 4079.5a8 8 0 1 0 16 0a8 8 0 1 0 -16 0M383.8 4081.5a8 8 0 1 0 16 0a8 8 0 1 0 -16 0M389.3 4078.5a8 8 0 1 0 16 0a8 8 0 1 0 -16 0M394.7 4078a8 8 0 1 0 16 0a8 8 0 1 0 -16 0M400.2 4079a8 8 0 1 0 16 0a8 8 0 1 0 -16 0M405.7 4080a8 8 0 1 0 16 0a8 8 0 1 0 -16 0M411.1 4078a8 8 0 1 0 16 0a8 8 0 1 0 -16 0M416.6 4081.5a8 8 0 1 0 16 0a8 8 0 1 0 -16 0M422.1 4078a8 8 0 1 0 16 0a8 8 0 1 0 -16 0M427.6 4077.5a8 8 0 1 0 16 0a8 8 0 1 0 -16 0M433 4079a8 8 0 1 0 16 0a8 8 0 1 0 -16 0M438.5 4081a8 8 0 1 0 16 0a8 8 0 1 0 -16 0M444 4081.5a8 8 0 1 0 16 0a8 8 0 1 0 -16 0M449.5 4080.5a8 8 0 1 0 16 0a8 8 0 1 0 -16 0M471.3 4080a8 8 0 1 0 16 0a8 8 0 1 0 -16 0M476.8 4081a8 8 0 1 0 16 0a8 8 0 1 0 -16 0M482.3 4081a8 8 0 1 0 16 0a8 8 0 1 0 -16 0M487.8 4080a8 8 0 1 0 16 0a8 8 0 1 0 -16 0M493.2 4079.5a8 8 0 1 0 16 0a8 8 0 1 0 -16 0M498.7 4079a8 8 0 1 0 16 0a8 8 0 1 0 -16 0M504.2 4078.5a8 8 0 1 0 16 0a8 8 0 1 0 -16 0M509.7 4079a8 8 0 1 0 16 0a8 8 0 1 0 -16 0M515.1 4078a8 8 0 1 0 16 0a8 8 0 1 0 -16 0M520.6 4079.5a8 8 0 1 0 16 0a8 8 0 1 0 -16 0M526.1 4081.5a8 8 0 1 0 16 0a8 8 0 1 0 -16 0M531.6 4081a8 8 0 1 0 16 0a8 8 0 1 0 -16 0M537 4080a8 8 0 1 0 16 0a8 8 0 1 0 -16 0M542.5 4081a8 8 0 1 0 16 0a8 8 0 1 0 -16 0M548 4079.5a8 8 0 1 0 16 0a8 8 0 1 0 -16 0M553.4 4078a8 8 0 1 0 16 0a8 8 0 1 0 -16 0M558.9 4078a8 8 0 1 0 16 0a8 8 0 1 0 -16 0M564.4 4081.5a8 8 0 1 0 16 0a8 8 0 1 0 -16 0M569.9 4080.5a8 8 0 1 0 16 0a8 8 0 1 0 -16 0M575.3 4078.5a8 8 0 1 0 16 0a8 8 0 1 0 -16 0M586.3 4080a8 8 0 1 0 16 0a8 8 0 1 0 -16 0M591.8 4078.5a8 8 0 1 0 16 0a8 8 0 1 0 -16 0M597.2 4081a8 8 0 1 0 16 0a8 8 0 1 0 -16 0M602.7 4080.5a8 8 0 1 0 16 0a8 8 0 1 0 -16 0M608.2 4077.5a8 8 0 1 0 16 0a8 8 0 1 0 -16 0M613.6 4078a8 8 0 1 0 16 0a8 8 0 1 0 -16 0M619.1 4081.5a8 8 0 1 0 16 0a8 8 0 1 0 -16 0M630.1 4080a8 8 0 1 0 16 0a8 8 0 1 0 -16 0M635.5 4080a8 8 0 1 0 16 0a8 8 0 1 0 -16 0M641 4080a8 8 0 1 0 16 0a8 8 0 1 0 -16 0M646.5 4081a8 8 0 1 0 16 0a8 8 0 1 0 -16 0M652 4081a8 8 0 1 0 16 0a8 8 0 1 0 -16 0M657.4 4078a8 8 0 1 0 16 0a8 8 0 1 0 -16 0M662.9 4078a8 8 0 1 0 16 0a8 8 0 1 0 -16 0M668.4 4079.5a8 8 0 1 0 16 0a8 8 0 1 0 -16 0M673.9 4081a8 8 0 1 0 16 0a8 8 0 1 0 -16 0M679.3 4078a8 8 0 1 0 16 0a8 8 0 1 0 -16 0M684.8 4077.5a8 8 0 1 0 16 0a8 8 0 1 0 -16 0M712.2 4079.5a8 8 0 1 0 16 0a8 8 0 1 0 -16 0M717.6 4081a8 8 0 1 0 16 0a8 8 0 1 0 -16 0M723.1 4079.5a8 8 0 1 0 16 0a8 8 0 1 0 -16 0M728.6 4080.5a8 8 0 1 0 16 0a8 8 0 1 0 -16 0M734.1 4080a8 8 0 1 0 16 0a8 8 0 1 0 -16 0M739.5 4077.5a8 8 0 1 0 16 0a8 8 0 1 0 -16 0M745 4081a8 8 0 1 0 16 0a8 8 0 1 0 -16 0M750.5 4080a8 8 0 1 0 16 0a8 8 0 1 0 -16 0M756 4078.5a8 8 0 1 0 16 0a8 8 0 1 0 -16 0M761.4 4078a8 8 0 1 0 16 0a8 8 0 1 0 -16 0M766.9 4081a8 8 0 1 0 16 0a8 8 0 1 0 -16 0M772.4 4077.5a8 8 0 1 0 16 0a8 8 0 1 0 -16 0M777.8 4079a8 8 0 1 0 16 0a8 8 0 1 0 -16 0M783.3 4079.5a8 8 0 1 0 16 0a8 8 0 1 0 -16 0M788.8 4078.5a8 8 0 1 0 16 0a8 8 0 1 0 -16 0M794.3 4079a8 8 0 1 0 16 0a8 8 0 1 0 -16 0M799.7 4080.5a8 8 0 1 0 16 0a8 8 0 1 0 -16 0M920.9 4020.6a8 8 0 1 0 16 0a8 8 0 1 0 -16 0M974.4 3995.6a8 8 0 1 0 16 0a8 8 0 1 0 -16 0M1009.3 4058.5a8 8 0 1 0 16 0a8 8 0 1 0 -16 0M1071.8 3995.6a8 8 0 1 0 16 0a8 8 0 1 0 -16 0M1085.8 3814.7a8 8 0 1 0 16 0a8 8 0 1 0 -16 0M1095.8 3973.6a8 8 0 1 0 16 0a8 8 0 1 0 -16 0M1106.8 4020.6a8 8 0 1 0 16 0a8 8 0 1 0 -16 0M1116.7 4023.1a8 8 0 1 0 16 0a8 8 0 1 0 -16 0M1127.7 4047.1a8 8 0 1 0 16 0a8 8 0 1 0 -16 0M1137.7 4058.5a8 8 0 1 0 16 0a8 8 0 1 0 -16 0M1151.7 4077a8 8 0 1 0 16 0a8 8 0 1 0 -16 0M1161.7 4049.6a8 8 0 1 0 16 0a8 8 0 1 0 -16 0M1172.7 4058.5a8 8 0 1 0 16 0a8 8 0 1 0 -16 0M1182.7 4036.1a8 8 0 1 0 16 0a8 8 0 1 0 -16 0M1401.5 4070.5a8 8 0 1 0 16 0a8 8 0 1 0 -16 0M811.2 4080.5a8 8 0 1 0 16 0a8 8 0 1 0 -16 0M816.7 4081a8 8 0 1 0 16 0a8 8 0 1 0 -16 0M822.1 4078a8 8 0 1 0 16 0a8 8 0 1 0 -16 0M827.6 4078.5a8 8 0 1 0 16 0a8 8 0 1 0 -16 0M833.1 4081a8 8 0 1 0 16 0a8 8 0 1 0 -16 0M838.5 4080.5a8 8 0 1 0 16 0a8 8 0 1 0 -16 0M844 4081.5a8 8 0 1 0 16 0a8 8 0 1 0 -16 0M849.5 4079.5a8 8 0 1 0 16 0a8 8 0 1 0 -16 0M855 4078.5a8 8 0 1 0 16 0a8 8 0 1 0 -16 0M860.4 4080.5a8 8 0 1 0 16 0a8 8 0 1 0 -16 0M865.9 4081.5a8 8 0 1 0 16 0a8 8 0 1 0 -16 0M871.4 4079.5a8 8 0 1 0 16 0a8 8 0 1 0 -16 0M876.9 4080.5a8 8 0 1 0 16 0a8 8 0 1 0 -16 0M882.3 4080a8 8 0 1 0 16 0a8 8 0 1 0 -16 0M887.8 4080.5a8 8 0 1 0 16 0a8 8 0 1 0 -16 0M893.3 4079a8 8 0 1 0 16 0a8 8 0 1 0 -16 0M898.8 4078.5a8 8 0 1 0 16 0a8 8 0 1 0 -16 0M904.2 4078a8 8 0 1 0 16 0a8 8 0 1 0 -16 0M909.7 4078.5a8 8 0 1 0 16 0a8 8 0 1 0 -16 0M931.6 4078.5a8 8 0 1 0 16 0a8 8 0 1 0 -16 0M937.1 4079a8 8 0 1 0 16 0a8 8 0 1 0 -16 0M942.5 4079a8 8 0 1 0 16 0a8 8 0 1 0 -16 0M948 4077.5a8 8 0 1 0 16 0a8 8 0 1 0 -16 0M953.5 4081a8 8 0 1 0 16 0a8 8 0 1 0 -16 0M959 4078.5a8 8 0 1 0 16 0a8 8 0 1 0 -16 0M964.4 4079.5a8 8 0 1 0 16 0a8 8 0 1 0 -16 0M969.9 4079.5a8 8 0 1 0 16 0a8 8 0 1 0 -16 0M980.8 4077.5a8 8 0 1 0 16 0a8 8 0 1 0 -16 0M986.3 4078.5a8 8 0 1 0 16 0a8 8 0 1 0 -16 0M991.8 4080.5a8 8 0 1 0 16 0a8 8 0 1 0 -16 0M997.3 4081.5a8 8 0 1 0 16 0a8 8 0 1 0 -16 0M1019.2 4080a8 8 0 1 0 16 0a8 8 0 1 0 -16 0M1024.6 4080a8 8 0 1 0 16 0a8 8 0 1 0 -16 0M1030.1 4078.5a8 8 0 1 0 16 0a8 8 0 1 0 -16 0M1035.6 4081.5a8 8 0 1 0 16 0a8 8 0 1 0 -16 0M1041.1 4077.5a8 8 0 1 0 16 0a8 8 0 1 0 -16 0M1046.5 4081a8 8 0 1 0 16 0a8 8 0 1 0 -16 0M1052 4081.5a8 8 0 1 0 16 0a8 8 0 1 0 -16 0M1057.5 4080.5a8 8 0 1 0 16 0a8 8 0 1 0 -16 0M1062.9 4080.5a8 8 0 1 0 16 0a8 8 0 1 0 -16 0M1194.3 4080.5a8 8 0 1 0 16 0a8 8 0 1 0 -16 0M1199.8 4080.5a8 8 0 1 0 16 0a8 8 0 1 0 -16 0M1205.2 4078a8 8 0 1 0 16 0a8 8 0 1 0 -16 0M1210.7 4081a8 8 0 1 0 16 0a8 8 0 1 0 -16 0M1216.2 4080.5a8 8 0 1 0 16 0a8 8 0 1 0 -16 0M1221.7 4077.5a8 8 0 1 0 16 0a8 8 0 1 0 -16 0M1227.1 4079a8 8 0 1 0 16 0a8 8 0 1 0 -16 0M1232.6 4078a8 8 0 1 0 16 0a8 8 0 1 0 -16 0M1238.1 4079a8 8 0 1 0 16 0a8 8 0 1 0 -16 0M1243.6 4081a8 8 0 1 0 16 0a8 8 0 1 0 -16 0M1249 4078.5a8 8 0 1 0 16 0a8 8 0 1 0 -16 0M1254.5 4078a8 8 0 1 0 16 0a8 8 0 1 0 -16 0M1260 4080a8 8 0 1 0 16 0a8 8 0 1 0 -16 0M1265.5 4077.5a8 8 0 1 0 16 0a8 8 0 1 0 -16 0M1270.9 4078a8 8 0 1 0 16 0a8 8 0 1 0 -16 0M1276.4 4077.5a8 8 0 1 0 16 0a8 8 0 1 0 -16 0M1281.9 4078.5a8 8 0 1 0 16 0a8 8 0 1 0 -16 0M1287.3 4081.5a8 8 0 1 0 16 0a8 8 0 1 0 -16 0M1292.8 4078a8 8 0 1 0 16 0a8 8 0 1 0 -16 0M1298.3 4080a8 8 0 1 0 16 0a8 8 0 1 0 -16 0M1303.8 4077.5a8 8 0 1 0 16 0a8 8 0 1 0 -16 0M1309.2 4078a8 8 0 1 0 16 0a8 8 0 1 0 -16 0M1314.7 4079a8 8 0 1 0 16 0a8 8 0 1 0 -16 0M1320.2 4080.5a8 8 0 1 0 16 0a8 8 0 1 0 -16 0M1325.7 4078.5a8 8 0 1 0 16 0a8 8 0 1 0 -16 0M1331.1 4079.5a8 8 0 1 0 16 0a8 8 0 1 0 -16 0M1336.6 4080a8 8 0 1 0 16 0a8 8 0 1 0 -16 0M1342.1 4080a8 8 0 1 0 16 0a8 8 0 1 0 -16 0M1347.5 4081a8 8 0 1 0 16 0a8 8 0 1 0 -16 0M1353 4078a8 8 0 1 0 16 0a8 8 0 1 0 -16 0M1358.5 4078a8 8 0 1 0 16 0a8 8 0 1 0 -16 0M1364 4081a8 8 0 1 0 16 0a8 8 0 1 0 -16 0M1369.4 4081a8 8 0 1 0 16 0a8 8 0 1 0 -16 0M1374.9 4081a8 8 0 1 0 16 0a8 8 0 1 0 -16 0M1380.4 4081a8 8 0 1 0 16 0a8 8 0 1 0 -16 0M1385.9 4079.5a8 8 0 1 0 16 0a8 8 0 1 0 -16 0M1391.3 4078a8 8 0 1 0 16 0a8 8 0 1 0 -16 0M1413.2 4078.5a8 8 0 1 0 16 0a8 8 0 1 0 -16 0M1424.3 4072a8 8 0 1 0 16 0a8 8 0 1 0 -16 0M1446.8 4069.5a8 8 0 1 0 16 0a8 8 0 1 0 -16 0M1459.3 4064.5a8 8 0 1 0 16 0a8 8 0 1 0 -16 0M1469.3 4077a8 8 0 1 0 16 0a8 8 0 1 0 -16 0M1480.8 4064.5a8 8 0 1 0 16 0a8 8 0 1 0 -16 0M1491.8 4082a8 8 0 1 0 16 0a8 8 0 1 0 -16 0M1511.8 4062a8 8 0 1 0 16 0a8 8 0 1 0 -16 0M1531.8 4082a8 8 0 1 0 16 0a8 8 0 1 0 -16 0M1542.8 4083.5a8 8 0 1 0 16 0a8 8 0 1 0 -16 0M1555.7 3739.8a8 8 0 1 0 16 0a8 8 0 1 0 -16 0M1565.7 3928.7a8 8 0 1 0 16 0a8 8 0 1 0 -16 0M1577.7 3989.6a8 8 0 1 0 16 0a8 8 0 1 0 -16 0M1587.7 4039.6a8 8 0 1 0 16 0a8 8 0 1 0 -16 0M1600.7 4054.6a8 8 0 1 0 16 0a8 8 0 1 0 -16 0M1610.7 4064.5a8 8 0 1 0 16 0a8 8 0 1 0 -16 0M1624.2 4055.6a8 8 0 1 0 16 0a8 8 0 1 0 -16 0M1631.7 3725.8a8 8 0 1 0 16 0a8 8 0 1 0 -16 0M1644.2 3802.3a8 8 0 1 0 16 0a8 8 0 1 0 -16 0M1654.2 3919.7a8 8 0 1 0 16 0a8 8 0 1 0 -16 0M1666.7 3960.6a8 8 0 1 0 16 0a8 8 0 1 0 -16 0M1675.6 3982.1a8 8 0 1 0 16 0a8 8 0 1 0 -16 0M1685.6 4021.1a8 8 0 1 0 16 0a8 8 0 1 0 -16 0M1697.6 4032.1a8 8 0 1 0 16 0a8 8 0 1 0 -16 0M1709.1 4022.1a8 8 0 1 0 16 0a8 8 0 1 0 -16 0M1720.6 4010.6a8 8 0 1 0 16 0a8 8 0 1 0 -16 0M1729.1 4030.6a8 8 0 1 0 16 0a8 8 0 1 0 -16 0M1741.6 4030.6a8 8 0 1 0 16 0a8 8 0 1 0 -16 0M1754.1 4037.1a8 8 0 1 0 16 0a8 8 0 1 0 -16 0M1765.6 4049.6a8 8 0 1 0 16 0a8 8 0 1 0 -16 0M1776.6 4057.1a8 8 0 1 0 16 0a8 8 0 1 0 -16 0M1786.6 4062a8 8 0 1 0 16 0a8 8 0 1 0 -16 0M1796.5 4052.1a8 8 0 1 0 16 0a8 8 0 1 0 -16 0M1809 4063.5a8 8 0 1 0 16 0a8 8 0 1 0 -16 0M1819 4049.6a8 8 0 1 0 16 0a8 8 0 1 0 -16 0M1829 4059.5a8 8 0 1 0 16 0a8 8 0 1 0 -16 0M1840.5 4062a8 8 0 1 0 16 0a8 8 0 1 0 -16 0M1851.5 3903.7a8 8 0 1 0 16 0a8 8 0 1 0 -16 0" fill="#b8ffcc" fill-opacity="0.4" stroke="#00cc4c" stroke-width="2.8"/>
<path d="M252.5 4090.5V4086H262.4V4090.5ZM567.2 4090.5V4077H577.2V4083.5H584.7V4090.5ZM898.9 4090.5V4086H907.4V4090.5ZM950.9 4090.5V4086H958.9V4090.5ZM1044.8 4090.5V4018.6H1053.3V4090.5ZM1500.8 4090.5V4046.1H1509.8V4090.5ZM1562.2 4090.5V4029.6H1573.2V4018.1H1583.2V4090.5ZM1780.6 4090.5V4070.5H1789.6V4090.5Z" fill="#0000e4" stroke="#000078" stroke-width="1.6" stroke-linejoin="miter"/>
</g>
<path d="M195.5 3503.2V4090.5H1860.3" fill="none" stroke="#222" stroke-width="2.6"/>
<path d="M195.5 3503.2H1860.3" fill="none" stroke="#333" stroke-width="2.3"/>
<path d="M1860.3 3503.2V4090.5" fill="none" stroke="#5c5c5c" stroke-width="2.4"/>
<path d="M402.9 4090.5v-17M402.9 3503.2v17M622 4090.5v-17M622 3503.2v17M841.1 4090.5v-17M841.1 3503.2v17M1060.2 4090.5v-17M1060.2 3503.2v17M1279.3 4090.5v-17M1279.3 3503.2v17M1498.4 4090.5v-17M1498.4 3503.2v17M1717.5 4090.5v-17M1717.5 3503.2v17M195.5 3845.8h17M1860.3 3845.8h-17M195.5 3601.1h17M1860.3 3601.1h-17" stroke="#222" stroke-width="2.2" fill="none"/>
<text x="400.6" y="4168.3" class="t" text-anchor="middle">140</text>
<text x="619.7" y="4168.3" class="t" text-anchor="middle">160</text>
<text x="838.8" y="4168.3" class="t" text-anchor="middle">180</text>
<text x="1057.9" y="4168.3" class="t" text-anchor="middle">200</text>
<text x="1277" y="4168.3" class="t" text-anchor="middle">220</text>
<text x="1496.1" y="4168.3" class="t" text-anchor="middle">240</text>
<text x="1715.2" y="4168.3" class="t" text-anchor="middle">260</text>
<text x="174.8" y="4113.5" class="t" text-anchor="end">0</text>
<text x="174.8" y="3868.8" class="t" text-anchor="end">0.5</text>
<text x="174.8" y="3624.1" class="t" text-anchor="end">1</text>
<text x="1880" y="4113.5" class="t">0</text>
<text x="1880" y="3868.8" class="t">30</text>
<text x="1880" y="3624.1" class="t">60</text>
<text class="al" transform="translate(71.5 3796.8) rotate(-90)" text-anchor="middle">EF (-)</text>
<text class="al" transform="translate(2015 3796.8) rotate(-90)" text-anchor="middle">Precipitation (mm)</text>
<text class="ti" x="295.0" y="3582.4" textLength="282.8" lengthAdjust="spacing">Desert</text>

<path d="M562 65.5H656.5" stroke="#f2871f" stroke-width="8"/>
<text class="lg" x="668" y="84.5">EF(Measured)</text>
<circle cx="1103" cy="62.8" r="8" fill="#b8ffcc" fill-opacity="0.4" stroke="#00cc4c" stroke-width="2.8"/>
<text class="lg" x="1121" y="84.5">EF(Modeled)</text>
<rect x="1440" y="40.5" width="94" height="50" fill="#0000fa" stroke="#000080" stroke-width="1.4"/>
<text class="lg" x="1544" y="84.5">Precipitation</text>

<text class="xl" x="894" y="4213.7">Day of Year</text>
</svg>
</body></html>
